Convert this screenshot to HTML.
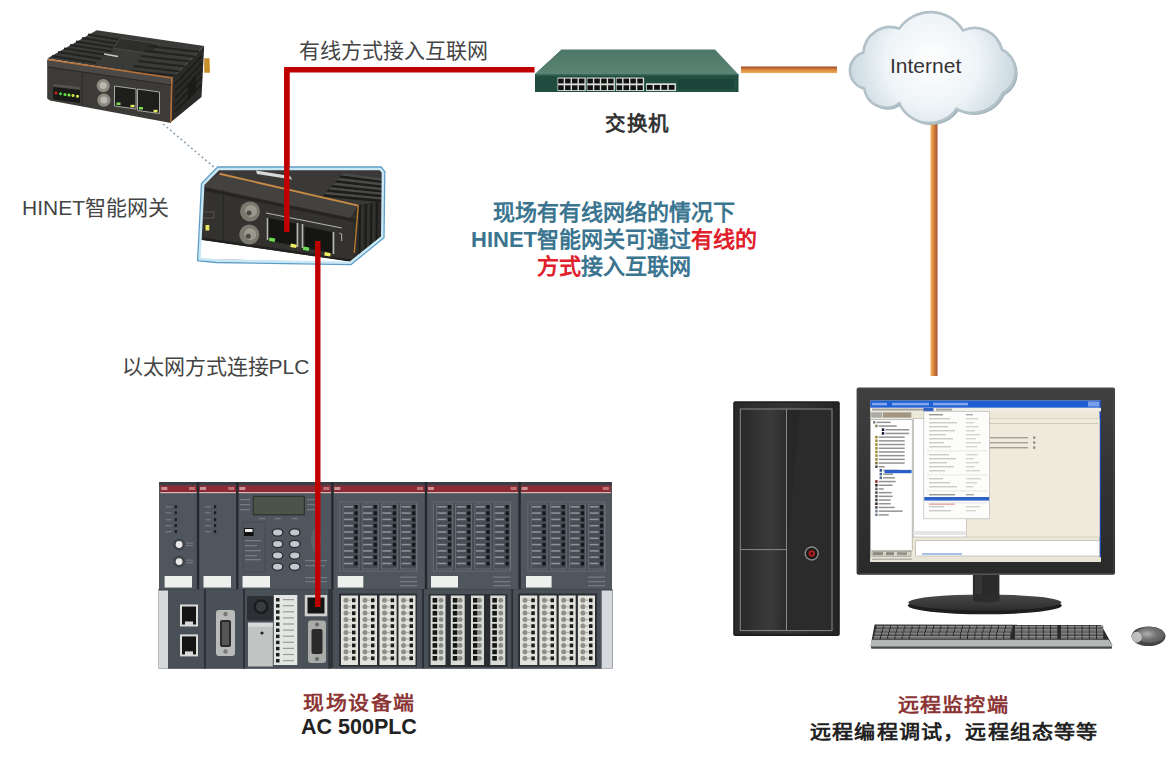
<!DOCTYPE html><html lang="zh-CN"><head><meta charset="utf-8"><style>
body{margin:0;width:1171px;height:759px;background:#fff;font-family:"Liberation Sans",sans-serif;position:relative;overflow:hidden}
.t{position:absolute;white-space:nowrap;line-height:1}
.s{font-weight:bold}
svg{position:absolute;left:0;top:0}
</style></head><body>
<svg width="1171" height="759" viewBox="0 0 1171 759">
<defs>
<linearGradient id="orH" x1="0" y1="0" x2="0" y2="1"><stop offset="0" stop-color="#9a4a2a"/><stop offset=".45" stop-color="#d9813a"/><stop offset="1" stop-color="#f2b060"/></linearGradient>
<linearGradient id="orV" x1="0" y1="0" x2="1" y2="0"><stop offset="0" stop-color="#f4b266"/><stop offset=".5" stop-color="#d8823c"/><stop offset="1" stop-color="#9c5030"/></linearGradient>
<linearGradient id="swTop" x1="0" y1="0" x2="0" y2="1"><stop offset="0" stop-color="#4d7868"/><stop offset="1" stop-color="#5a8474"/></linearGradient>
<radialGradient id="cloudG" gradientUnits="userSpaceOnUse" cx="932" cy="62" r="85"><stop offset="0" stop-color="#ffffff"/><stop offset=".55" stop-color="#eef4f7"/><stop offset="1" stop-color="#c9d8df"/></radialGradient>
<linearGradient id="silver" x1="0" y1="0" x2="1" y2="1"><stop offset="0" stop-color="#e8e8e0"/><stop offset=".5" stop-color="#a8a8a0"/><stop offset="1" stop-color="#5a5a55"/></linearGradient>
<linearGradient id="towerG" x1="0" y1="0" x2="1" y2="0"><stop offset="0" stop-color="#2a2a2a"/><stop offset=".5" stop-color="#353535"/><stop offset="1" stop-color="#242424"/></linearGradient>
<linearGradient id="bezelG" x1="0" y1="0" x2="0" y2="1"><stop offset="0" stop-color="#404040"/><stop offset=".5" stop-color="#333"/><stop offset="1" stop-color="#2a2a2a"/></linearGradient>
<linearGradient id="baseG" x1="0" y1="0" x2="0" y2="1"><stop offset="0" stop-color="#4a4a4a"/><stop offset="1" stop-color="#2c2c2c"/></linearGradient>
<radialGradient id="mouseG" cx=".4" cy=".45" r=".65"><stop offset="0" stop-color="#b0b0b0"/><stop offset=".5" stop-color="#747474"/><stop offset="1" stop-color="#5a5a5a"/></radialGradient>
<linearGradient id="towL" x1="0" y1="0" x2="1" y2="0"><stop offset="0" stop-color="#2a2a2a"/><stop offset=".65" stop-color="#3a3a3a"/><stop offset="1" stop-color="#2c2c2c"/></linearGradient>
</defs>
<!-- red lines -->
<path d="M286.8,232 V69.8 H534.5" fill="none" stroke="#c00000" stroke-width="5.4"/>
<!-- orange lines -->
<rect x="741" y="66.5" width="96" height="6.6" fill="url(#orH)"/>
<rect x="930.5" y="120" width="7" height="256" fill="url(#orV)"/>
<g id="switch">
<polygon points="535,74.4 562,49.5 715,49.5 738.5,74.4" fill="url(#swTop)"/>
<line x1="535" y1="74.4" x2="562" y2="49.5" stroke="#4a7262" stroke-width="1"/>
<rect x="535" y="74.4" width="203.5" height="17.6" fill="#214d41"/>
<rect x="535" y="74.4" width="203.5" height="1.5" fill="#2f5e50"/>
<rect x="677" y="78" width="58" height="12" fill="#1c4539" stroke="#2f5f52" stroke-width=".6"/>
<rect x="557.5" y="77.5" width="28.2" height="13.5" fill="#d8ddd8"/>
<rect x="558.2" y="78.6" width="5.5" height="4.8" fill="#111"/>
<rect x="558.2" y="85.3" width="5.5" height="4.8" fill="#111"/>
<rect x="565.1" y="78.6" width="5.5" height="4.8" fill="#111"/>
<rect x="565.1" y="85.3" width="5.5" height="4.8" fill="#111"/>
<rect x="572.0" y="78.6" width="5.5" height="4.8" fill="#111"/>
<rect x="572.0" y="85.3" width="5.5" height="4.8" fill="#111"/>
<rect x="578.9" y="78.6" width="5.5" height="4.8" fill="#111"/>
<rect x="578.9" y="85.3" width="5.5" height="4.8" fill="#111"/>
<rect x="586.7" y="77.5" width="28.2" height="13.5" fill="#d8ddd8"/>
<rect x="587.4" y="78.6" width="5.5" height="4.8" fill="#111"/>
<rect x="587.4" y="85.3" width="5.5" height="4.8" fill="#111"/>
<rect x="594.3" y="78.6" width="5.5" height="4.8" fill="#111"/>
<rect x="594.3" y="85.3" width="5.5" height="4.8" fill="#111"/>
<rect x="601.2" y="78.6" width="5.5" height="4.8" fill="#111"/>
<rect x="601.2" y="85.3" width="5.5" height="4.8" fill="#111"/>
<rect x="608.1" y="78.6" width="5.5" height="4.8" fill="#111"/>
<rect x="608.1" y="85.3" width="5.5" height="4.8" fill="#111"/>
<rect x="615.9" y="77.5" width="28.2" height="13.5" fill="#d8ddd8"/>
<rect x="616.6" y="78.6" width="5.5" height="4.8" fill="#111"/>
<rect x="616.6" y="85.3" width="5.5" height="4.8" fill="#111"/>
<rect x="623.5" y="78.6" width="5.5" height="4.8" fill="#111"/>
<rect x="623.5" y="85.3" width="5.5" height="4.8" fill="#111"/>
<rect x="630.4" y="78.6" width="5.5" height="4.8" fill="#111"/>
<rect x="630.4" y="85.3" width="5.5" height="4.8" fill="#111"/>
<rect x="637.3" y="78.6" width="5.5" height="4.8" fill="#111"/>
<rect x="637.3" y="85.3" width="5.5" height="4.8" fill="#111"/>
<rect x="646" y="83.3" width="30" height="7.8" fill="#d8ddd8"/>
<rect x="646.8" y="85" width="5.8" height="4.8" fill="#111"/>
<rect x="654.1" y="85" width="5.8" height="4.8" fill="#111"/>
<rect x="661.4" y="85" width="5.8" height="4.8" fill="#111"/>
<rect x="668.7" y="85" width="5.8" height="4.8" fill="#111"/>
</g>
<g id="cloud">
<path transform="translate(2,2)" fill="#a0b2ba" d="M863.4,52.6 A27,27 0 0,1 899.3,28.5 A38,38 0 0,1 963,30.4 A28,28 0 0,1 1001.8,49.5 A24.5,24.5 0 0,1 1002.7,93.2 A33,33 0 0,1 956.6,108.9 A33,33 0 0,1 899.3,103.3 A22,22 0 0,1 864.3,88.6 A18.6,18.6 0 0,1 863.4,52.6 Z"/>
<path fill="url(#cloudG)" stroke="#b2c1c8" stroke-width="2.6" d="M863.4,52.6 A27,27 0 0,1 899.3,28.5 A38,38 0 0,1 963,30.4 A28,28 0 0,1 1001.8,49.5 A24.5,24.5 0 0,1 1002.7,93.2 A33,33 0 0,1 956.6,108.9 A33,33 0 0,1 899.3,103.3 A22,22 0 0,1 864.3,88.6 A18.6,18.6 0 0,1 863.4,52.6 Z"/>
</g>
<g id="gw1">
<!-- top surface -->
<polygon points="47.2,58.5 96.7,30.3 204.2,46 172.3,77.9" fill="#3a3a38"/>
<!-- fins left part of top -->
<g stroke="#232321" stroke-width="2.2">
<line x1="52" y1="56" x2="96" y2="63"/><line x1="58" y1="52" x2="101" y2="58.8"/><line x1="64" y1="48.5" x2="107" y2="55"/>
<line x1="70" y1="45" x2="112" y2="51.5"/><line x1="76" y1="41.5" x2="117" y2="48"/><line x1="82" y1="38" x2="122" y2="44.5"/><line x1="88" y1="34.5" x2="127" y2="41"/>
</g>
<!-- raised center -->
<polygon points="120.5,38.2 159.6,44 152.4,54.2 113.3,48.2" fill="#2e2e2c" stroke="#4a4a47" stroke-width="1"/>
<!-- right fins -->
<g stroke="#222220" stroke-width="2">
<line x1="148" y1="46" x2="200" y2="52"/><line x1="145" y1="51" x2="198" y2="57"/><line x1="141" y1="56" x2="194" y2="62"/>
<line x1="138" y1="61" x2="189" y2="67"/><line x1="134" y1="66" x2="184" y2="72"/><line x1="131" y1="71" x2="179" y2="76"/>
</g>
<!-- logo -->
<line x1="104" y1="54" x2="118" y2="56.5" stroke="#c8c8c8" stroke-width="1.4"/>
<!-- right face -->
<polygon points="172.3,77.9 204.2,46 201.5,97 171,122" fill="#2b2a28"/>
<g stroke="#1c1c1a" stroke-width="1.8">
<line x1="175" y1="84" x2="202" y2="56"/><line x1="175" y1="91" x2="202" y2="63"/><line x1="175" y1="98" x2="202" y2="70"/><line x1="175" y1="105" x2="202" y2="77"/><line x1="175" y1="112" x2="201" y2="85"/>
</g>
<polygon points="188,84 196,76 196,92 188,100" fill="#1a1a19"/>
<polygon points="204.2,58.3 209.5,58.3 210,72.8 204.2,72.8" fill="#c8902a"/>
<!-- front face -->
<polygon points="47.2,60 172.3,78 171,123 49.9,100.5 47.2,98.5" fill="#3c3b37"/>
<polygon points="47.9,66.5 172.3,85 172.3,78 47.2,60" fill="#4a4945"/>
<line x1="47.5" y1="59.5" x2="172.3" y2="78" stroke="#b87238" stroke-width="1.5"/>
<line x1="171.8" y1="78" x2="170.8" y2="122" stroke="#b87238" stroke-width="1.5"/>
<line x1="48" y1="67" x2="171.5" y2="85" stroke="#2a2926" stroke-width="1"/>
<line x1="82.2" y1="72" x2="82.2" y2="106" stroke="#2c2b28" stroke-width="1"/>
<!-- LED block -->
<polygon points="53,87 80,90 80,103 53,99.5" fill="#1a1a18"/>
<polygon points="53,84 80,87 80,89.5 53,86.5" fill="#55534e"/>
<circle cx="56" cy="93" r="1.6" fill="#d02020"/>
<circle cx="60.5" cy="93.8" r="1.5" fill="#50d040"/><circle cx="65" cy="94.5" r="1.5" fill="#60e040"/>
<circle cx="69" cy="95" r="1.5" fill="#80f040"/><circle cx="73" cy="95.5" r="1.5" fill="#d0f040"/><circle cx="77.5" cy="96.2" r="1.5" fill="#e0f050"/>
<!-- BNC -->
<circle cx="103.2" cy="85.6" r="6.6" fill="#8d8c82"/><circle cx="103.2" cy="85.6" r="3.5" fill="#b9b8ae"/>
<circle cx="103.9" cy="100.1" r="6.6" fill="#8d8c82"/><circle cx="103.9" cy="100.1" r="3.5" fill="#b9b8ae"/>
<!-- RJ45 -->
<polygon points="114.5,86 136,89 136,109 114.5,106" fill="#1e1e1d" stroke="#a9a9a4" stroke-width="1"/>
<polygon points="137.5,89 159.5,92 159.5,113.5 137.5,110.5" fill="#1e1e1d" stroke="#a9a9a4" stroke-width="1"/>
<rect x="116.5" y="102.5" width="4" height="2.5" fill="#7ee050"/><rect x="130.5" y="104.8" width="4" height="2.5" fill="#e8f060"/>
<rect x="139" y="107" width="4" height="2.5" fill="#7ee050"/><rect x="153.5" y="109.8" width="4" height="2.5" fill="#e8f060"/>
</g>
<!-- dotted connector -->
<line x1="163" y1="124" x2="215" y2="168" stroke="#8aa0b0" stroke-width="1.5" stroke-dasharray="2,2.6"/>
<g id="gw2">
<clipPath id="gwclip"><polygon points="218.5,168.6 380.5,168.6 383,172 382.2,237 350.4,262.7 199.5,258.8 203,184.5"/></clipPath>
<polygon points="217.7,167 381.2,167 384.8,171.6 384,237.7 351,264.6 216,262.5 197.6,260.6 201.5,183.6" fill="#fff"/>
<g clip-path="url(#gwclip)">
<rect x="190" y="160" width="200" height="110" fill="#31302d"/>
<!-- top surface -->
<polygon points="200,160 390,160 390,236 357,206 219.6,173.6 200,186" fill="#3a3937"/>
<polygon points="341.0,175.5 344.0,173.3 384,178.7 384,181.1" fill="#4a4a48"/>
<polygon points="341.0,175.5 384,181.1 384,183.7 339.0,177.7" fill="#1c1c1b"/>
<polygon points="336.8,180.2 339.8,178.0 384,183.4 384,185.8" fill="#4a4a48"/>
<polygon points="336.8,180.2 384,185.8 384,188.4 334.8,182.4" fill="#1c1c1b"/>
<polygon points="332.6,184.9 335.6,182.7 384,188.1 384,190.5" fill="#4a4a48"/>
<polygon points="332.6,184.9 384,190.5 384,193.1 330.6,187.1" fill="#1c1c1b"/>
<polygon points="328.4,189.6 331.4,187.4 384,192.8 384,195.2" fill="#4a4a48"/>
<polygon points="328.4,189.6 384,195.2 384,197.8 326.4,191.8" fill="#1c1c1b"/>
<polygon points="324.2,194.3 327.2,192.1 384,197.5 384,199.9" fill="#4a4a48"/>
<polygon points="324.2,194.3 384,199.9 384,202.5 322.2,196.5" fill="#1c1c1b"/>
<!-- logo -->
<polygon points="256,170.5 290,176 292,179.5 257,174" fill="#d9d9d9"/>
<!-- right face -->
<polygon points="356,205 390,200 390,250 353,262" fill="#2c2b29"/>
<g stroke="#1a1a19" stroke-width="1.6">
<line x1="360" y1="206" x2="359.5" y2="258"/><line x1="366" y1="204" x2="365.5" y2="256"/><line x1="371.5" y1="203" x2="371" y2="252"/><line x1="377" y1="202" x2="376.5" y2="248"/>
</g>
<g stroke="#3e3d3a" stroke-width=".8">
<line x1="362.3" y1="206" x2="361.8" y2="257"/><line x1="368.3" y1="204" x2="367.8" y2="255"/><line x1="373.8" y1="203" x2="373.3" y2="251"/>
</g>
<!-- front bevel -->
<polygon points="200,186 219.6,173.6 358.3,205.6 349.6,219 205,187" fill="#43423e"/>
<!-- front face -->
<polygon points="203,187 349.6,219 354.3,253 351,262 203,239.5" fill="#33322f"/>
<polygon points="200,186.5 358,219.5 358,223 200,190" fill="#262523"/>
<line x1="219.6" y1="173.8" x2="358.3" y2="205.6" stroke="#c98a48" stroke-width="1.9"/>
<line x1="358.3" y1="205.6" x2="354.3" y2="253" stroke="#b8782e" stroke-width="1.4"/>
<!-- bottom white -->
<polygon points="195,239 356,262 356,270 195,270" fill="#fff"/>
<polygon points="203,237.5 356,260 356,262.5 203,240" fill="#22211f"/>
<line x1="223.3" y1="190" x2="223.3" y2="242" stroke="#242321" stroke-width="1"/>
<rect x="205.5" y="225" width="3.8" height="5.5" fill="#e8e860"/>
<rect x="202" y="212" width="12" height="6" fill="none" stroke="#55534f" stroke-width="1"/>
<!-- BNC -->
<circle cx="250" cy="211.4" r="10" fill="#7a796f"/><circle cx="251" cy="211" r="6" fill="#9a998e"/><circle cx="249" cy="213" r="2.5" fill="#4a4940"/>
<circle cx="249.3" cy="234.6" r="10" fill="#7a796f"/><circle cx="250.3" cy="234.2" r="6" fill="#9a998e"/><circle cx="248.3" cy="236.2" r="2.5" fill="#4a4940"/>
<!-- RJ45 frames -->
<polyline points="266,213 299,219.5 341.7,228" fill="none" stroke="#b8b8b4" stroke-width="1"/>
<polygon points="268,218 296,223.5 296,246 268,240.5" fill="#151514"/>
<line x1="267.5" y1="218" x2="267.5" y2="240" stroke="#b5b5b0" stroke-width="1.6"/>
<line x1="297.5" y1="223" x2="297.5" y2="247" stroke="#b5b5b0" stroke-width="1.6"/>
<line x1="302.5" y1="224" x2="302.5" y2="248" stroke="#b5b5b0" stroke-width="1.6"/>
<polygon points="304.5,226.5 332,232 332,253 304.5,247.5" fill="#151514"/>
<line x1="333.5" y1="232" x2="333.5" y2="254" stroke="#b5b5b0" stroke-width="1.6"/>
<polyline points="339.5,233 341.7,234 341.7,241" fill="none" stroke="#b8b8b4" stroke-width="1"/>
<rect x="269" y="238" width="6" height="3.4" fill="#6edc50" transform="rotate(10 272 240)"/>
<rect x="290.5" y="244" width="6" height="3.4" fill="#f0f060" transform="rotate(10 293 246)"/>
<rect x="303" y="247" width="6" height="3.4" fill="#6edc50" transform="rotate(10 306 249)"/>
<rect x="324.5" y="252.5" width="6" height="3.4" fill="#f0f060" transform="rotate(10 327 254)"/>
</g>
<polygon points="218.6,168.9 380.3,168.9 383,172.3 382.3,236.9 350.3,262.7 215.8,260.6 199.4,258.9 203.2,184.3" fill="none" stroke="#c8e8f6" stroke-width="2.6"/>
<polygon points="217.7,167 381.2,167 384.8,171.6 384,237.7 351,264.6 216,262.5 197.6,260.6 201.5,183.6" fill="none" stroke="#5e9cc4" stroke-width="1.3"/>
</g>
<path d="M286.8,232 V69.8" fill="none" stroke="#c00000" stroke-width="5.4"/>
<g id="pc">
<rect x="733.2" y="401.3" width="106.6" height="234.7" rx="2" fill="#1f1f1f"/>
<rect x="735" y="403" width="103" height="231" fill="url(#towerG)"/>
<rect x="740.8" y="409.5" width="45.7" height="221" fill="url(#towL)"/>
<rect x="786.5" y="409.5" width="45" height="221" fill="#272727"/>
<polygon points="800,409.5 831.5,409.5 831.5,630 780,630" fill="#2e2e2e" opacity=".6"/>
<rect x="740.3" y="409" width="91.7" height="221.6" fill="none" stroke="#8a8a8a" stroke-width="1"/>
<line x1="786.5" y1="409" x2="786.5" y2="630.6" stroke="#8a8a8a" stroke-width="1"/>
<line x1="740.3" y1="549.6" x2="786.5" y2="549.6" stroke="#8a8a8a" stroke-width="1"/>
<circle cx="811.7" cy="553.5" r="7.2" fill="#8a8a8a"/><circle cx="811.7" cy="553.5" r="5.8" fill="#1a1a1a"/><circle cx="811.7" cy="553.5" r="3.2" fill="#b02020"/><circle cx="811.7" cy="553.5" r="1.3" fill="#300"/>
<rect x="856.6" y="387.4" width="258.4" height="187.4" rx="2" fill="url(#bezelG)"/>
<rect x="858" y="388.5" width="255.6" height="185" rx="1.5" fill="none" stroke="#4a4a4a" stroke-width=".8"/>
<rect x="870.3" y="400.5" width="230.7" height="161.5" fill="#ece9d8"/>
<rect x="870.3" y="400.5" width="230.7" height="7.3" fill="#1f5fd4"/>
<rect x="872" y="402.8" width="15" height="2.6" fill="#9ab8f0" opacity=".8"/><rect x="892" y="402.8" width="37" height="2.6" fill="#9ab8f0" opacity=".8"/><rect x="933" y="402.8" width="35" height="2.6" fill="#9ab8f0" opacity=".8"/>
<rect x="1088" y="401.5" width="12" height="5" fill="#7a9ee8"/><rect x="1099.5" y="400.5" width="1.5" height="161.5" fill="#1a4ab8"/>
<rect x="870.3" y="407.8" width="230.7" height="3.5" fill="#f0eee4"/>
<rect x="872" y="408.6" width="60" height="2" fill="#666" opacity=".55"/><rect x="923.5" y="408" width="10" height="3.3" fill="#3163c5"/><rect x="936" y="408.6" width="16" height="2" fill="#666" opacity=".55"/>
<rect x="872" y="412" width="40" height="6" fill="#d8d4c4"/>
<rect x="871" y="412.5" width="11" height="5" fill="#999" opacity=".7"/><rect x="883" y="412.5" width="28" height="5" fill="#8d7d6a" opacity=".7"/>
<rect x="870.7" y="419.6" width="41.5" height="131" fill="#ffffff" stroke="#9a9a9a" stroke-width=".6"/>
<rect x="873.0" y="421.0" width="2.4" height="2.6" fill="#888"/><rect x="876.5" y="421.6" width="14.0" height="1.5" fill="#3a3a3a" opacity=".55"/>
<rect x="875.2" y="424.7" width="2.4" height="2.6" fill="#7a8a60"/><rect x="878.7" y="425.3" width="18.0" height="1.5" fill="#3a3a3a" opacity=".55"/>
<rect x="881.8" y="428.4" width="2.4" height="2.6" fill="#101030"/><rect x="885.3" y="429.0" width="24.0" height="1.5" fill="#3a3a3a" opacity=".55"/>
<rect x="881.8" y="432.1" width="2.4" height="2.6" fill="#101030"/><rect x="885.3" y="432.7" width="24.0" height="1.5" fill="#3a3a3a" opacity=".55"/>
<rect x="875.2" y="435.8" width="2.4" height="2.6" fill="#9a8a30"/><rect x="878.7" y="436.4" width="26.0" height="1.5" fill="#3a3a3a" opacity=".55"/>
<rect x="875.2" y="439.5" width="2.4" height="2.6" fill="#9a8a30"/><rect x="878.7" y="440.1" width="26.0" height="1.5" fill="#3a3a3a" opacity=".55"/>
<rect x="875.2" y="443.2" width="2.4" height="2.6" fill="#9a8a30"/><rect x="878.7" y="443.8" width="26.0" height="1.5" fill="#3a3a3a" opacity=".55"/>
<rect x="875.2" y="446.9" width="2.4" height="2.6" fill="#9a8a30"/><rect x="878.7" y="447.5" width="26.0" height="1.5" fill="#3a3a3a" opacity=".55"/>
<rect x="875.2" y="450.6" width="2.4" height="2.6" fill="#9a8a30"/><rect x="878.7" y="451.2" width="26.0" height="1.5" fill="#3a3a3a" opacity=".55"/>
<rect x="875.2" y="454.3" width="2.4" height="2.6" fill="#9a8a30"/><rect x="878.7" y="454.9" width="26.0" height="1.5" fill="#3a3a3a" opacity=".55"/>
<rect x="875.2" y="458.0" width="2.4" height="2.6" fill="#9a8a30"/><rect x="878.7" y="458.6" width="26.0" height="1.5" fill="#3a3a3a" opacity=".55"/>
<rect x="875.2" y="461.7" width="2.4" height="2.6" fill="#7a6a30"/><rect x="878.7" y="462.3" width="26.0" height="1.5" fill="#3a3a3a" opacity=".55"/>
<rect x="875.2" y="465.4" width="2.4" height="2.6" fill="#4a4a4a"/><rect x="878.7" y="466.0" width="6.0" height="1.5" fill="#3a3a3a" opacity=".55"/>
<rect x="879.6" y="469.1" width="2.4" height="2.6" fill="#2a4a8a"/><rect x="883.1" y="469.7" width="16.0" height="1.5" fill="#3a3a3a" opacity=".55"/>
<rect x="879.6" y="472.8" width="2.4" height="2.6" fill="#4a6a8a"/><rect x="883.1" y="473.4" width="10.0" height="1.5" fill="#3a3a3a" opacity=".55"/>
<rect x="879.6" y="476.5" width="2.4" height="2.6" fill="#4a6a8a"/><rect x="883.1" y="477.1" width="12.0" height="1.5" fill="#3a3a3a" opacity=".55"/>
<rect x="875.2" y="480.2" width="2.4" height="2.6" fill="#7a2020"/><rect x="878.7" y="480.8" width="17.0" height="1.5" fill="#3a3a3a" opacity=".55"/>
<rect x="875.2" y="483.9" width="2.4" height="2.6" fill="#202020"/><rect x="878.7" y="484.5" width="14.0" height="1.5" fill="#3a3a3a" opacity=".55"/>
<rect x="875.2" y="487.6" width="2.4" height="2.6" fill="#5a5a5a"/><rect x="878.7" y="488.2" width="5.0" height="1.5" fill="#3a3a3a" opacity=".55"/>
<rect x="875.2" y="491.3" width="2.4" height="2.6" fill="#4a4a4a"/><rect x="878.7" y="491.9" width="13.0" height="1.5" fill="#3a3a3a" opacity=".55"/>
<rect x="875.2" y="495.0" width="2.4" height="2.6" fill="#4a4a4a"/><rect x="878.7" y="495.6" width="14.0" height="1.5" fill="#3a3a3a" opacity=".55"/>
<rect x="875.2" y="498.7" width="2.4" height="2.6" fill="#3a3a3a"/><rect x="878.7" y="499.3" width="12.0" height="1.5" fill="#3a3a3a" opacity=".55"/>
<rect x="875.2" y="502.4" width="2.4" height="2.6" fill="#2a2a2a"/><rect x="878.7" y="503.0" width="12.0" height="1.5" fill="#3a3a3a" opacity=".55"/>
<rect x="875.2" y="506.1" width="2.4" height="2.6" fill="#4a4a4a"/><rect x="878.7" y="506.7" width="16.0" height="1.5" fill="#3a3a3a" opacity=".55"/>
<rect x="875.2" y="509.8" width="2.4" height="2.6" fill="#6a7a8a"/><rect x="878.7" y="510.4" width="24.0" height="1.5" fill="#3a3a3a" opacity=".55"/>
<rect x="875.2" y="513.5" width="2.4" height="2.6" fill="#6a7a8a"/><rect x="878.7" y="514.1" width="10.0" height="1.5" fill="#3a3a3a" opacity=".55"/>
<rect x="884.6" y="469.9" width="27" height="3.3" fill="#2a5ec8"/>
<rect x="872" y="551.3" width="39" height="5" fill="#d8d4c4" stroke="#666" stroke-width=".4"/>
<rect x="873" y="552.2" width="10" height="3" fill="#555" opacity=".6"/><rect x="886" y="552.2" width="8" height="3" fill="#555" opacity=".6"/><rect x="897" y="552.2" width="10" height="3" fill="#555" opacity=".5"/>
<rect x="913.4" y="418.5" width="53.3" height="118.5" fill="#ffffff" stroke="#aaa" stroke-width=".6"/>
<rect x="913.4" y="531" width="53.3" height="4" fill="#e6e6e6"/>
<rect x="966.7" y="418.5" width="132.9" height="118.5" fill="#efeadb" stroke="#c8c4b4" stroke-width=".6"/>
<rect x="968" y="423" width="130" height="1" fill="#cfcab8"/>
<rect x="990" y="437" width="38" height="1.4" fill="#555" opacity=".5"/><rect x="1033" y="436.4" width="2.4" height="2.4" fill="#555" opacity=".6"/>
<rect x="990" y="442" width="38" height="1.4" fill="#555" opacity=".5"/><rect x="1033" y="441.4" width="2.4" height="2.4" fill="#555" opacity=".6"/>
<rect x="990" y="447" width="38" height="1.4" fill="#555" opacity=".5"/><rect x="1033" y="446.4" width="2.4" height="2.4" fill="#555" opacity=".6"/>
<rect x="923.8" y="411.3" width="65.7" height="107.5" fill="#fcfcfb" stroke="#b0b0b0" stroke-width=".6"/>
<rect x="929" y="414.0" width="14" height="1.4" fill="#333" opacity=".5"/><rect x="966" y="414.0" width="7" height="1.4" fill="#333" opacity=".4"/>
<rect x="929" y="418.0" width="21" height="1.4" fill="#9a9a9a" opacity=".5"/><rect x="966" y="418.0" width="12" height="1.4" fill="#9a9a9a" opacity=".4"/>
<rect x="929" y="422.0" width="28" height="1.4" fill="#9a9a9a" opacity=".5"/><rect x="966" y="422.0" width="8" height="1.4" fill="#9a9a9a" opacity=".4"/>
<rect x="929" y="426.0" width="19" height="1.4" fill="#9a9a9a" opacity=".5"/><rect x="966" y="426.0" width="13" height="1.4" fill="#9a9a9a" opacity=".4"/>
<rect x="929" y="430.0" width="26" height="1.4" fill="#9a9a9a" opacity=".5"/><rect x="966" y="430.0" width="9" height="1.4" fill="#9a9a9a" opacity=".4"/>
<rect x="929" y="434.0" width="17" height="1.4" fill="#9a9a9a" opacity=".5"/><rect x="966" y="434.0" width="14" height="1.4" fill="#9a9a9a" opacity=".4"/>
<rect x="929" y="438.0" width="24" height="1.4" fill="#9a9a9a" opacity=".5"/><rect x="966" y="438.0" width="10" height="1.4" fill="#9a9a9a" opacity=".4"/>
<rect x="929" y="442.0" width="15" height="1.4" fill="#9a9a9a" opacity=".5"/><rect x="966" y="442.0" width="15" height="1.4" fill="#9a9a9a" opacity=".4"/>
<rect x="929" y="446.0" width="22" height="1.4" fill="#9a9a9a" opacity=".5"/><rect x="966" y="446.0" width="11" height="1.4" fill="#9a9a9a" opacity=".4"/>
<rect x="927" y="450.7" width="60" height=".5" fill="#d0d0d0"/>
<rect x="929" y="454.0" width="20" height="1.4" fill="#9a9a9a" opacity=".5"/><rect x="966" y="454.0" width="12" height="1.4" fill="#9a9a9a" opacity=".4"/>
<rect x="929" y="458.0" width="27" height="1.4" fill="#9a9a9a" opacity=".5"/><rect x="966" y="458.0" width="8" height="1.4" fill="#9a9a9a" opacity=".4"/>
<rect x="929" y="462.0" width="18" height="1.4" fill="#9a9a9a" opacity=".5"/><rect x="966" y="462.0" width="13" height="1.4" fill="#9a9a9a" opacity=".4"/>
<rect x="929" y="466.0" width="25" height="1.4" fill="#9a9a9a" opacity=".5"/><rect x="966" y="466.0" width="9" height="1.4" fill="#9a9a9a" opacity=".4"/>
<rect x="929" y="470.0" width="16" height="1.4" fill="#9a9a9a" opacity=".5"/><rect x="966" y="470.0" width="14" height="1.4" fill="#9a9a9a" opacity=".4"/>
<rect x="927" y="474.7" width="60" height=".5" fill="#d0d0d0"/>
<rect x="929" y="478.0" width="14" height="1.4" fill="#9a9a9a" opacity=".5"/><rect x="966" y="478.0" width="15" height="1.4" fill="#9a9a9a" opacity=".4"/>
<rect x="929" y="482.0" width="21" height="1.4" fill="#9a9a9a" opacity=".5"/><rect x="966" y="482.0" width="11" height="1.4" fill="#9a9a9a" opacity=".4"/>
<rect x="929" y="486.0" width="28" height="1.4" fill="#9a9a9a" opacity=".5"/><rect x="966" y="486.0" width="7" height="1.4" fill="#9a9a9a" opacity=".4"/>
<rect x="927" y="490.7" width="60" height=".5" fill="#d0d0d0"/>
<rect x="929" y="494.0" width="26" height="1.4" fill="#333" opacity=".5"/><rect x="966" y="494.0" width="8" height="1.4" fill="#333" opacity=".4"/>
<rect x="929" y="498.0" width="17" height="1.4" fill="#9a9a9a" opacity=".5"/><rect x="966" y="498.0" width="13" height="1.4" fill="#9a9a9a" opacity=".4"/>
<rect x="927" y="502.7" width="60" height=".5" fill="#d0d0d0"/>
<rect x="929" y="506.0" width="15" height="1.4" fill="#9a9a9a" opacity=".5"/><rect x="966" y="506.0" width="14" height="1.4" fill="#9a9a9a" opacity=".4"/>
<rect x="929" y="510.0" width="22" height="1.4" fill="#9a9a9a" opacity=".5"/><rect x="966" y="510.0" width="10" height="1.4" fill="#9a9a9a" opacity=".4"/>
<rect x="924.3" y="497" width="64.8" height="3.6" fill="#2f62c6"/>
<rect x="929" y="503.5" width="26" height="1.4" fill="#cc4433" opacity=".45"/>
<rect x="915.7" y="540.6" width="183.9" height="15.4" fill="#ffffff" stroke="#aaa" stroke-width=".6"/>
<rect x="922" y="553" width="40" height="2" fill="#a8c0e8"/>
<rect x="870.3" y="557.2" width="230.7" height="4.8" fill="#e8e5d6"/>
<rect x="872" y="558.5" width="40" height="1.4" fill="#777" opacity=".5"/>
<rect x="972.9" y="574.8" width="26.5" height="26" fill="#2a2a2a"/>
<rect x="975" y="574.8" width="7" height="28" fill="#3a3a3a" opacity=".7"/>
<ellipse cx="984.85" cy="605.5" rx="77" ry="8.8" fill="#1e1e1e"/>
<ellipse cx="984.85" cy="602.5" rx="76.5" ry="8" fill="url(#baseG)"/>
<path d="M972.9,594 V601 Q986,604 999.4,601 V594 Z" fill="#2c2c2c"/>
<polygon points="874.6,624.5 1101,624.8 1112.3,645 1111,648.4 872,648.4 870.6,646" fill="#2a2a2a"/>
<polygon points="871.5,639.8 1108.5,639.8 1112.3,645 1111,648.4 872,648.4 870.6,646" fill="#b3b7b7"/>
<rect x="871" y="646.5" width="241" height="2" fill="#4a4a4a"/>
<rect x="876.5" y="625.8" width="6.2" height="3.0" fill="#666"/><rect x="876.5" y="625.8" width="6.2" height="1.2" fill="#8c8c8c"/>
<rect x="883.7" y="625.8" width="6.2" height="3.0" fill="#666"/><rect x="883.7" y="625.8" width="6.2" height="1.2" fill="#8c8c8c"/>
<rect x="890.9" y="625.8" width="6.2" height="3.0" fill="#666"/><rect x="890.9" y="625.8" width="6.2" height="1.2" fill="#8c8c8c"/>
<rect x="898.1" y="625.8" width="6.2" height="3.0" fill="#666"/><rect x="898.1" y="625.8" width="6.2" height="1.2" fill="#8c8c8c"/>
<rect x="905.3" y="625.8" width="6.2" height="3.0" fill="#666"/><rect x="905.3" y="625.8" width="6.2" height="1.2" fill="#8c8c8c"/>
<rect x="912.5" y="625.8" width="6.2" height="3.0" fill="#666"/><rect x="912.5" y="625.8" width="6.2" height="1.2" fill="#8c8c8c"/>
<rect x="919.7" y="625.8" width="6.2" height="3.0" fill="#666"/><rect x="919.7" y="625.8" width="6.2" height="1.2" fill="#8c8c8c"/>
<rect x="926.9" y="625.8" width="6.2" height="3.0" fill="#666"/><rect x="926.9" y="625.8" width="6.2" height="1.2" fill="#8c8c8c"/>
<rect x="934.1" y="625.8" width="6.2" height="3.0" fill="#666"/><rect x="934.1" y="625.8" width="6.2" height="1.2" fill="#8c8c8c"/>
<rect x="941.3" y="625.8" width="6.2" height="3.0" fill="#666"/><rect x="941.3" y="625.8" width="6.2" height="1.2" fill="#8c8c8c"/>
<rect x="948.5" y="625.8" width="6.2" height="3.0" fill="#666"/><rect x="948.5" y="625.8" width="6.2" height="1.2" fill="#8c8c8c"/>
<rect x="955.7" y="625.8" width="6.2" height="3.0" fill="#666"/><rect x="955.7" y="625.8" width="6.2" height="1.2" fill="#8c8c8c"/>
<rect x="962.9" y="625.8" width="6.2" height="3.0" fill="#666"/><rect x="962.9" y="625.8" width="6.2" height="1.2" fill="#8c8c8c"/>
<rect x="970.1" y="625.8" width="6.2" height="3.0" fill="#666"/><rect x="970.1" y="625.8" width="6.2" height="1.2" fill="#8c8c8c"/>
<rect x="977.3" y="625.8" width="6.2" height="3.0" fill="#666"/><rect x="977.3" y="625.8" width="6.2" height="1.2" fill="#8c8c8c"/>
<rect x="984.5" y="625.8" width="6.2" height="3.0" fill="#666"/><rect x="984.5" y="625.8" width="6.2" height="1.2" fill="#8c8c8c"/>
<rect x="991.7" y="625.8" width="6.2" height="3.0" fill="#666"/><rect x="991.7" y="625.8" width="6.2" height="1.2" fill="#8c8c8c"/>
<rect x="998.9" y="625.8" width="6.2" height="3.0" fill="#666"/><rect x="998.9" y="625.8" width="6.2" height="1.2" fill="#8c8c8c"/>
<rect x="1006.1" y="625.8" width="6.2" height="3.0" fill="#666"/><rect x="1006.1" y="625.8" width="6.2" height="1.2" fill="#8c8c8c"/>
<rect x="1015.0" y="625.8" width="6.2" height="3.0" fill="#666"/><rect x="1015.0" y="625.8" width="6.2" height="1.2" fill="#8c8c8c"/>
<rect x="1022.2" y="625.8" width="6.2" height="3.0" fill="#666"/><rect x="1022.2" y="625.8" width="6.2" height="1.2" fill="#8c8c8c"/>
<rect x="1029.4" y="625.8" width="6.2" height="3.0" fill="#666"/><rect x="1029.4" y="625.8" width="6.2" height="1.2" fill="#8c8c8c"/>
<rect x="1036.6" y="625.8" width="6.2" height="3.0" fill="#666"/><rect x="1036.6" y="625.8" width="6.2" height="1.2" fill="#8c8c8c"/>
<rect x="1043.8" y="625.8" width="6.2" height="3.0" fill="#666"/><rect x="1043.8" y="625.8" width="6.2" height="1.2" fill="#8c8c8c"/>
<rect x="1051.0" y="625.8" width="6.2" height="3.0" fill="#666"/><rect x="1051.0" y="625.8" width="6.2" height="1.2" fill="#8c8c8c"/>
<rect x="1061.0" y="625.8" width="6.2" height="3.0" fill="#666"/><rect x="1061.0" y="625.8" width="6.2" height="1.2" fill="#8c8c8c"/>
<rect x="1068.2" y="625.8" width="6.2" height="3.0" fill="#666"/><rect x="1068.2" y="625.8" width="6.2" height="1.2" fill="#8c8c8c"/>
<rect x="1075.4" y="625.8" width="6.2" height="3.0" fill="#666"/><rect x="1075.4" y="625.8" width="6.2" height="1.2" fill="#8c8c8c"/>
<rect x="1082.6" y="625.8" width="6.2" height="3.0" fill="#666"/><rect x="1082.6" y="625.8" width="6.2" height="1.2" fill="#8c8c8c"/>
<rect x="1089.8" y="625.8" width="6.2" height="3.0" fill="#666"/><rect x="1089.8" y="625.8" width="6.2" height="1.2" fill="#8c8c8c"/>
<rect x="1097.0" y="625.8" width="6.2" height="3.0" fill="#666"/><rect x="1097.0" y="625.8" width="6.2" height="1.2" fill="#8c8c8c"/>
<rect x="875.6" y="629.2" width="6.2" height="3.0" fill="#666"/><rect x="875.6" y="629.2" width="6.2" height="1.2" fill="#8c8c8c"/>
<rect x="882.8" y="629.2" width="6.2" height="3.0" fill="#666"/><rect x="882.8" y="629.2" width="6.2" height="1.2" fill="#8c8c8c"/>
<rect x="890.0" y="629.2" width="6.2" height="3.0" fill="#666"/><rect x="890.0" y="629.2" width="6.2" height="1.2" fill="#8c8c8c"/>
<rect x="897.2" y="629.2" width="6.2" height="3.0" fill="#666"/><rect x="897.2" y="629.2" width="6.2" height="1.2" fill="#8c8c8c"/>
<rect x="904.4" y="629.2" width="6.2" height="3.0" fill="#666"/><rect x="904.4" y="629.2" width="6.2" height="1.2" fill="#8c8c8c"/>
<rect x="911.6" y="629.2" width="6.2" height="3.0" fill="#666"/><rect x="911.6" y="629.2" width="6.2" height="1.2" fill="#8c8c8c"/>
<rect x="918.8" y="629.2" width="6.2" height="3.0" fill="#666"/><rect x="918.8" y="629.2" width="6.2" height="1.2" fill="#8c8c8c"/>
<rect x="926.0" y="629.2" width="6.2" height="3.0" fill="#666"/><rect x="926.0" y="629.2" width="6.2" height="1.2" fill="#8c8c8c"/>
<rect x="933.2" y="629.2" width="6.2" height="3.0" fill="#666"/><rect x="933.2" y="629.2" width="6.2" height="1.2" fill="#8c8c8c"/>
<rect x="940.4" y="629.2" width="6.2" height="3.0" fill="#666"/><rect x="940.4" y="629.2" width="6.2" height="1.2" fill="#8c8c8c"/>
<rect x="947.6" y="629.2" width="6.2" height="3.0" fill="#666"/><rect x="947.6" y="629.2" width="6.2" height="1.2" fill="#8c8c8c"/>
<rect x="954.8" y="629.2" width="6.2" height="3.0" fill="#666"/><rect x="954.8" y="629.2" width="6.2" height="1.2" fill="#8c8c8c"/>
<rect x="962.0" y="629.2" width="6.2" height="3.0" fill="#666"/><rect x="962.0" y="629.2" width="6.2" height="1.2" fill="#8c8c8c"/>
<rect x="969.2" y="629.2" width="6.2" height="3.0" fill="#666"/><rect x="969.2" y="629.2" width="6.2" height="1.2" fill="#8c8c8c"/>
<rect x="976.4" y="629.2" width="6.2" height="3.0" fill="#666"/><rect x="976.4" y="629.2" width="6.2" height="1.2" fill="#8c8c8c"/>
<rect x="983.6" y="629.2" width="6.2" height="3.0" fill="#666"/><rect x="983.6" y="629.2" width="6.2" height="1.2" fill="#8c8c8c"/>
<rect x="990.8" y="629.2" width="6.2" height="3.0" fill="#666"/><rect x="990.8" y="629.2" width="6.2" height="1.2" fill="#8c8c8c"/>
<rect x="998.0" y="629.2" width="6.2" height="3.0" fill="#666"/><rect x="998.0" y="629.2" width="6.2" height="1.2" fill="#8c8c8c"/>
<rect x="1005.2" y="629.2" width="6.2" height="3.0" fill="#666"/><rect x="1005.2" y="629.2" width="6.2" height="1.2" fill="#8c8c8c"/>
<rect x="1015.0" y="629.2" width="6.2" height="3.0" fill="#666"/><rect x="1015.0" y="629.2" width="6.2" height="1.2" fill="#8c8c8c"/>
<rect x="1022.2" y="629.2" width="6.2" height="3.0" fill="#666"/><rect x="1022.2" y="629.2" width="6.2" height="1.2" fill="#8c8c8c"/>
<rect x="1029.4" y="629.2" width="6.2" height="3.0" fill="#666"/><rect x="1029.4" y="629.2" width="6.2" height="1.2" fill="#8c8c8c"/>
<rect x="1036.6" y="629.2" width="6.2" height="3.0" fill="#666"/><rect x="1036.6" y="629.2" width="6.2" height="1.2" fill="#8c8c8c"/>
<rect x="1043.8" y="629.2" width="6.2" height="3.0" fill="#666"/><rect x="1043.8" y="629.2" width="6.2" height="1.2" fill="#8c8c8c"/>
<rect x="1051.0" y="629.2" width="6.2" height="3.0" fill="#666"/><rect x="1051.0" y="629.2" width="6.2" height="1.2" fill="#8c8c8c"/>
<rect x="1061.0" y="629.2" width="6.2" height="3.0" fill="#666"/><rect x="1061.0" y="629.2" width="6.2" height="1.2" fill="#8c8c8c"/>
<rect x="1068.2" y="629.2" width="6.2" height="3.0" fill="#666"/><rect x="1068.2" y="629.2" width="6.2" height="1.2" fill="#8c8c8c"/>
<rect x="1075.4" y="629.2" width="6.2" height="3.0" fill="#666"/><rect x="1075.4" y="629.2" width="6.2" height="1.2" fill="#8c8c8c"/>
<rect x="1082.6" y="629.2" width="6.2" height="3.0" fill="#666"/><rect x="1082.6" y="629.2" width="6.2" height="1.2" fill="#8c8c8c"/>
<rect x="1089.8" y="629.2" width="6.2" height="3.0" fill="#666"/><rect x="1089.8" y="629.2" width="6.2" height="1.2" fill="#8c8c8c"/>
<rect x="1097.0" y="629.2" width="6.2" height="3.0" fill="#666"/><rect x="1097.0" y="629.2" width="6.2" height="1.2" fill="#8c8c8c"/>
<rect x="874.7" y="632.6" width="6.2" height="3.0" fill="#666"/><rect x="874.7" y="632.6" width="6.2" height="1.2" fill="#8c8c8c"/>
<rect x="881.9" y="632.6" width="6.2" height="3.0" fill="#666"/><rect x="881.9" y="632.6" width="6.2" height="1.2" fill="#8c8c8c"/>
<rect x="889.1" y="632.6" width="6.2" height="3.0" fill="#666"/><rect x="889.1" y="632.6" width="6.2" height="1.2" fill="#8c8c8c"/>
<rect x="896.3" y="632.6" width="6.2" height="3.0" fill="#666"/><rect x="896.3" y="632.6" width="6.2" height="1.2" fill="#8c8c8c"/>
<rect x="903.5" y="632.6" width="6.2" height="3.0" fill="#666"/><rect x="903.5" y="632.6" width="6.2" height="1.2" fill="#8c8c8c"/>
<rect x="910.7" y="632.6" width="6.2" height="3.0" fill="#666"/><rect x="910.7" y="632.6" width="6.2" height="1.2" fill="#8c8c8c"/>
<rect x="917.9" y="632.6" width="6.2" height="3.0" fill="#666"/><rect x="917.9" y="632.6" width="6.2" height="1.2" fill="#8c8c8c"/>
<rect x="925.1" y="632.6" width="6.2" height="3.0" fill="#666"/><rect x="925.1" y="632.6" width="6.2" height="1.2" fill="#8c8c8c"/>
<rect x="932.3" y="632.6" width="6.2" height="3.0" fill="#666"/><rect x="932.3" y="632.6" width="6.2" height="1.2" fill="#8c8c8c"/>
<rect x="939.5" y="632.6" width="6.2" height="3.0" fill="#666"/><rect x="939.5" y="632.6" width="6.2" height="1.2" fill="#8c8c8c"/>
<rect x="946.7" y="632.6" width="6.2" height="3.0" fill="#666"/><rect x="946.7" y="632.6" width="6.2" height="1.2" fill="#8c8c8c"/>
<rect x="953.9" y="632.6" width="6.2" height="3.0" fill="#666"/><rect x="953.9" y="632.6" width="6.2" height="1.2" fill="#8c8c8c"/>
<rect x="961.1" y="632.6" width="6.2" height="3.0" fill="#666"/><rect x="961.1" y="632.6" width="6.2" height="1.2" fill="#8c8c8c"/>
<rect x="968.3" y="632.6" width="6.2" height="3.0" fill="#666"/><rect x="968.3" y="632.6" width="6.2" height="1.2" fill="#8c8c8c"/>
<rect x="975.5" y="632.6" width="6.2" height="3.0" fill="#666"/><rect x="975.5" y="632.6" width="6.2" height="1.2" fill="#8c8c8c"/>
<rect x="982.7" y="632.6" width="6.2" height="3.0" fill="#666"/><rect x="982.7" y="632.6" width="6.2" height="1.2" fill="#8c8c8c"/>
<rect x="989.9" y="632.6" width="6.2" height="3.0" fill="#666"/><rect x="989.9" y="632.6" width="6.2" height="1.2" fill="#8c8c8c"/>
<rect x="997.1" y="632.6" width="6.2" height="3.0" fill="#666"/><rect x="997.1" y="632.6" width="6.2" height="1.2" fill="#8c8c8c"/>
<rect x="1004.3" y="632.6" width="6.2" height="3.0" fill="#666"/><rect x="1004.3" y="632.6" width="6.2" height="1.2" fill="#8c8c8c"/>
<rect x="1015.0" y="632.6" width="6.2" height="3.0" fill="#666"/><rect x="1015.0" y="632.6" width="6.2" height="1.2" fill="#8c8c8c"/>
<rect x="1022.2" y="632.6" width="6.2" height="3.0" fill="#666"/><rect x="1022.2" y="632.6" width="6.2" height="1.2" fill="#8c8c8c"/>
<rect x="1029.4" y="632.6" width="6.2" height="3.0" fill="#666"/><rect x="1029.4" y="632.6" width="6.2" height="1.2" fill="#8c8c8c"/>
<rect x="1036.6" y="632.6" width="6.2" height="3.0" fill="#666"/><rect x="1036.6" y="632.6" width="6.2" height="1.2" fill="#8c8c8c"/>
<rect x="1043.8" y="632.6" width="6.2" height="3.0" fill="#666"/><rect x="1043.8" y="632.6" width="6.2" height="1.2" fill="#8c8c8c"/>
<rect x="1051.0" y="632.6" width="6.2" height="3.0" fill="#666"/><rect x="1051.0" y="632.6" width="6.2" height="1.2" fill="#8c8c8c"/>
<rect x="1061.0" y="632.6" width="6.2" height="3.0" fill="#666"/><rect x="1061.0" y="632.6" width="6.2" height="1.2" fill="#8c8c8c"/>
<rect x="1068.2" y="632.6" width="6.2" height="3.0" fill="#666"/><rect x="1068.2" y="632.6" width="6.2" height="1.2" fill="#8c8c8c"/>
<rect x="1075.4" y="632.6" width="6.2" height="3.0" fill="#666"/><rect x="1075.4" y="632.6" width="6.2" height="1.2" fill="#8c8c8c"/>
<rect x="1082.6" y="632.6" width="6.2" height="3.0" fill="#666"/><rect x="1082.6" y="632.6" width="6.2" height="1.2" fill="#8c8c8c"/>
<rect x="1089.8" y="632.6" width="6.2" height="3.0" fill="#666"/><rect x="1089.8" y="632.6" width="6.2" height="1.2" fill="#8c8c8c"/>
<rect x="1097.0" y="632.6" width="6.2" height="3.0" fill="#666"/><rect x="1097.0" y="632.6" width="6.2" height="1.2" fill="#8c8c8c"/>
<rect x="873.8" y="636.0" width="6.2" height="3.2" fill="#666"/><rect x="873.8" y="636.0" width="6.2" height="1.2" fill="#8c8c8c"/>
<rect x="881.0" y="636.0" width="6.2" height="3.2" fill="#666"/><rect x="881.0" y="636.0" width="6.2" height="1.2" fill="#8c8c8c"/>
<rect x="888.2" y="636.0" width="6.2" height="3.2" fill="#666"/><rect x="888.2" y="636.0" width="6.2" height="1.2" fill="#8c8c8c"/>
<rect x="895.4" y="636.0" width="6.2" height="3.2" fill="#666"/><rect x="895.4" y="636.0" width="6.2" height="1.2" fill="#8c8c8c"/>
<rect x="902.6" y="636.0" width="6.2" height="3.2" fill="#666"/><rect x="902.6" y="636.0" width="6.2" height="1.2" fill="#8c8c8c"/>
<rect x="909.8" y="636.0" width="50" height="3.2" fill="#666"/><rect x="909.8" y="636.0" width="50" height="1.2" fill="#8c8c8c"/>
<rect x="960.8" y="636.0" width="6.2" height="3.2" fill="#666"/><rect x="960.8" y="636.0" width="6.2" height="1.2" fill="#8c8c8c"/>
<rect x="968.0" y="636.0" width="6.2" height="3.2" fill="#666"/><rect x="968.0" y="636.0" width="6.2" height="1.2" fill="#8c8c8c"/>
<rect x="975.2" y="636.0" width="6.2" height="3.2" fill="#666"/><rect x="975.2" y="636.0" width="6.2" height="1.2" fill="#8c8c8c"/>
<rect x="982.4" y="636.0" width="6.2" height="3.2" fill="#666"/><rect x="982.4" y="636.0" width="6.2" height="1.2" fill="#8c8c8c"/>
<rect x="989.6" y="636.0" width="6.2" height="3.2" fill="#666"/><rect x="989.6" y="636.0" width="6.2" height="1.2" fill="#8c8c8c"/>
<rect x="996.8" y="636.0" width="6.2" height="3.2" fill="#666"/><rect x="996.8" y="636.0" width="6.2" height="1.2" fill="#8c8c8c"/>
<rect x="1004.0" y="636.0" width="6.2" height="3.2" fill="#666"/><rect x="1004.0" y="636.0" width="6.2" height="1.2" fill="#8c8c8c"/>
<rect x="1015.0" y="636.0" width="6.2" height="3.2" fill="#666"/><rect x="1015.0" y="636.0" width="6.2" height="1.2" fill="#8c8c8c"/>
<rect x="1022.2" y="636.0" width="6.2" height="3.2" fill="#666"/><rect x="1022.2" y="636.0" width="6.2" height="1.2" fill="#8c8c8c"/>
<rect x="1029.4" y="636.0" width="6.2" height="3.2" fill="#666"/><rect x="1029.4" y="636.0" width="6.2" height="1.2" fill="#8c8c8c"/>
<rect x="1036.6" y="636.0" width="6.2" height="3.2" fill="#666"/><rect x="1036.6" y="636.0" width="6.2" height="1.2" fill="#8c8c8c"/>
<rect x="1043.8" y="636.0" width="6.2" height="3.2" fill="#666"/><rect x="1043.8" y="636.0" width="6.2" height="1.2" fill="#8c8c8c"/>
<rect x="1051.0" y="636.0" width="6.2" height="3.2" fill="#666"/><rect x="1051.0" y="636.0" width="6.2" height="1.2" fill="#8c8c8c"/>
<rect x="1061.0" y="636.0" width="6.2" height="3.2" fill="#666"/><rect x="1061.0" y="636.0" width="6.2" height="1.2" fill="#8c8c8c"/>
<rect x="1068.2" y="636.0" width="6.2" height="3.2" fill="#666"/><rect x="1068.2" y="636.0" width="6.2" height="1.2" fill="#8c8c8c"/>
<rect x="1075.4" y="636.0" width="6.2" height="3.2" fill="#666"/><rect x="1075.4" y="636.0" width="6.2" height="1.2" fill="#8c8c8c"/>
<rect x="1082.6" y="636.0" width="6.2" height="3.2" fill="#666"/><rect x="1082.6" y="636.0" width="6.2" height="1.2" fill="#8c8c8c"/>
<rect x="1089.8" y="636.0" width="6.2" height="3.2" fill="#666"/><rect x="1089.8" y="636.0" width="6.2" height="1.2" fill="#8c8c8c"/>
<rect x="1097.0" y="636.0" width="6.2" height="3.2" fill="#666"/><rect x="1097.0" y="636.0" width="6.2" height="1.2" fill="#8c8c8c"/>
<ellipse cx="1148.5" cy="636.2" rx="17" ry="9.8" fill="#454545"/>
<ellipse cx="1150" cy="634.8" rx="14.5" ry="8" fill="url(#mouseG)"/>
<ellipse cx="1136.5" cy="637" rx="5" ry="5.5" fill="#cfcfcf" opacity=".85" transform="rotate(-20 1137 636.5)"/>
</g><g id="plc">
<rect x="159" y="482" width="453" height="107.5" fill="#4d535b"/>
<rect x="159.4" y="482" width="38.6" height="107" fill="#50565e"/>
<rect x="159.4" y="482" width="38.6" height="3.5" fill="#3a3e44"/>
<rect x="160.4" y="485.5" width="36.6" height="6.5" fill="#8e2a33"/>
<rect x="160.4" y="492" width="36.6" height="1.2" fill="#d9b5b8"/>
<rect x="161.4" y="487" width="6" height="3" fill="#e0c0c0" opacity=".7"/>
<rect x="189.0" y="487" width="6" height="3" fill="#d8a8a8" opacity=".6"/>
<rect x="198.0" y="482" width="39.3" height="107" fill="#50565e"/>
<rect x="198.0" y="482" width="39.3" height="3.5" fill="#3a3e44"/>
<rect x="199.0" y="485.5" width="37.3" height="6.5" fill="#8e2a33"/>
<rect x="199.0" y="492" width="37.3" height="1.2" fill="#d9b5b8"/>
<rect x="200.0" y="487" width="6" height="3" fill="#e0c0c0" opacity=".7"/>
<rect x="228.3" y="487" width="6" height="3" fill="#d8a8a8" opacity=".6"/>
<rect x="237.3" y="482" width="95.1" height="107" fill="#50565e"/>
<rect x="237.3" y="482" width="95.1" height="3.5" fill="#3a3e44"/>
<rect x="238.3" y="485.5" width="93.1" height="6.5" fill="#8e2a33"/>
<rect x="238.3" y="492" width="93.1" height="1.2" fill="#d9b5b8"/>
<rect x="239.3" y="487" width="6" height="3" fill="#e0c0c0" opacity=".7"/>
<rect x="323.4" y="487" width="6" height="3" fill="#d8a8a8" opacity=".6"/>
<rect x="332.4" y="482" width="93.6" height="107" fill="#50565e"/>
<rect x="332.4" y="482" width="93.6" height="3.5" fill="#3a3e44"/>
<rect x="333.4" y="485.5" width="91.6" height="6.5" fill="#8e2a33"/>
<rect x="333.4" y="492" width="91.6" height="1.2" fill="#d9b5b8"/>
<rect x="334.4" y="487" width="6" height="3" fill="#e0c0c0" opacity=".7"/>
<rect x="417.0" y="487" width="6" height="3" fill="#d8a8a8" opacity=".6"/>
<rect x="426.0" y="482" width="93.6" height="107" fill="#50565e"/>
<rect x="426.0" y="482" width="93.6" height="3.5" fill="#3a3e44"/>
<rect x="427.0" y="485.5" width="91.6" height="6.5" fill="#8e2a33"/>
<rect x="427.0" y="492" width="91.6" height="1.2" fill="#d9b5b8"/>
<rect x="428.0" y="487" width="6" height="3" fill="#e0c0c0" opacity=".7"/>
<rect x="510.6" y="487" width="6" height="3" fill="#d8a8a8" opacity=".6"/>
<rect x="519.6" y="482" width="92.2" height="107" fill="#50565e"/>
<rect x="519.6" y="482" width="92.2" height="3.5" fill="#3a3e44"/>
<rect x="520.6" y="485.5" width="90.2" height="6.5" fill="#8e2a33"/>
<rect x="520.6" y="492" width="90.2" height="1.2" fill="#d9b5b8"/>
<rect x="521.6" y="487" width="6" height="3" fill="#e0c0c0" opacity=".7"/>
<rect x="602.8" y="487" width="6" height="3" fill="#d8a8a8" opacity=".6"/>
<rect x="196.8" y="482" width="2.4" height="107" fill="#25282d"/>
<rect x="236.1" y="482" width="2.4" height="107" fill="#25282d"/>
<rect x="331.2" y="482" width="2.4" height="107" fill="#25282d"/>
<rect x="424.8" y="482" width="2.4" height="107" fill="#25282d"/>
<rect x="518.4" y="482" width="2.4" height="107" fill="#25282d"/>
<rect x="164.6" y="576" width="27.4" height="11.5" fill="#eef0ee"/>
<rect x="203.5" y="576" width="27.5" height="11.5" fill="#eef0ee"/>
<rect x="242.5" y="576" width="27.5" height="11.5" fill="#eef0ee"/>
<rect x="337.7" y="576" width="25.6" height="11.5" fill="#eef0ee"/>
<rect x="431" y="576" width="27" height="11.5" fill="#eef0ee"/>
<rect x="526" y="576" width="25.6" height="11.5" fill="#eef0ee"/>
<rect x="174.7" y="505.3" width="2.2" height="3" fill="#1a1c1f"/>
<rect x="165.7" y="506.2" width="6" height="1.3" fill="#8a9098" opacity=".6"/>
<rect x="174.7" y="511.3" width="2.2" height="3" fill="#1a1c1f"/>
<rect x="165.7" y="512.2" width="6" height="1.3" fill="#8a9098" opacity=".6"/>
<rect x="174.7" y="518.2" width="2.2" height="3" fill="#1a1c1f"/>
<rect x="165.7" y="519.1" width="6" height="1.3" fill="#8a9098" opacity=".6"/>
<rect x="174.7" y="524.1" width="2.2" height="3" fill="#1a1c1f"/>
<rect x="165.7" y="525.0" width="6" height="1.3" fill="#8a9098" opacity=".6"/>
<rect x="174.7" y="530.1" width="2.2" height="3" fill="#1a1c1f"/>
<rect x="165.7" y="531.0" width="6" height="1.3" fill="#8a9098" opacity=".6"/>
<rect x="214.0" y="505.3" width="2.2" height="3" fill="#1a1c1f"/>
<rect x="205.0" y="506.2" width="6" height="1.3" fill="#8a9098" opacity=".6"/>
<rect x="214.0" y="511.3" width="2.2" height="3" fill="#1a1c1f"/>
<rect x="205.0" y="512.2" width="6" height="1.3" fill="#8a9098" opacity=".6"/>
<rect x="214.0" y="518.2" width="2.2" height="3" fill="#1a1c1f"/>
<rect x="205.0" y="519.1" width="6" height="1.3" fill="#8a9098" opacity=".6"/>
<rect x="214.0" y="524.1" width="2.2" height="3" fill="#1a1c1f"/>
<rect x="205.0" y="525.0" width="6" height="1.3" fill="#8a9098" opacity=".6"/>
<rect x="214.0" y="530.1" width="2.2" height="3" fill="#1a1c1f"/>
<rect x="205.0" y="531.0" width="6" height="1.3" fill="#8a9098" opacity=".6"/>
<circle cx="179.1" cy="544.5" r="6" fill="#3f444b"/><circle cx="179.1" cy="544.5" r="3.4" fill="#e8e8e8"/>
<rect x="186" y="542.5" width="7" height="1.2" fill="#8a9098" opacity=".6"/><rect x="186" y="545.0" width="7" height="1.2" fill="#8a9098" opacity=".6"/>
<circle cx="179.1" cy="561.6" r="6" fill="#3f444b"/><circle cx="179.1" cy="561.6" r="3.4" fill="#e8e8e8"/>
<rect x="186" y="559.6" width="7" height="1.2" fill="#8a9098" opacity=".6"/><rect x="186" y="562.1" width="7" height="1.2" fill="#8a9098" opacity=".6"/>
<rect x="252.7" y="495.7" width="52.3" height="19.7" fill="#2f3430"/>
<rect x="254" y="497" width="49.7" height="17.1" fill="#4b5449"/>
<ellipse cx="277.6" cy="532.5" rx="6" ry="4.2" fill="#2b2f35"/><ellipse cx="277.6" cy="532.5" rx="4.6" ry="3" fill="#c3c8cc"/>
<ellipse cx="294.7" cy="532.5" rx="6" ry="4.2" fill="#2b2f35"/><ellipse cx="294.7" cy="532.5" rx="4.6" ry="3" fill="#c3c8cc"/>
<ellipse cx="277.6" cy="544" rx="6" ry="4.2" fill="#2b2f35"/><ellipse cx="277.6" cy="544" rx="4.6" ry="3" fill="#c3c8cc"/>
<ellipse cx="294.7" cy="544" rx="6" ry="4.2" fill="#2b2f35"/><ellipse cx="294.7" cy="544" rx="4.6" ry="3" fill="#c3c8cc"/>
<ellipse cx="277.6" cy="555.6" rx="6" ry="4.2" fill="#2b2f35"/><ellipse cx="277.6" cy="555.6" rx="4.6" ry="3" fill="#c3c8cc"/>
<ellipse cx="294.7" cy="555.6" rx="6" ry="4.2" fill="#2b2f35"/><ellipse cx="294.7" cy="555.6" rx="4.6" ry="3" fill="#c3c8cc"/>
<ellipse cx="277.6" cy="566.7" rx="6" ry="4.2" fill="#2b2f35"/><ellipse cx="277.6" cy="566.7" rx="4.6" ry="3" fill="#c3c8cc"/>
<ellipse cx="294.7" cy="566.7" rx="6" ry="4.2" fill="#2b2f35"/><ellipse cx="294.7" cy="566.7" rx="4.6" ry="3" fill="#c3c8cc"/>
<rect x="244" y="528" width="9.5" height="8" fill="#111"/><rect x="245" y="529" width="7.5" height="3" fill="#eee"/>
<rect x="243" y="522" width="22" height="50" fill="none" stroke="#454a51" stroke-width=".8"/>
<rect x="245" y="540" width="16" height="1.3" fill="#9aa0a8" opacity=".55"/>
<rect x="245" y="545" width="12" height="1.3" fill="#9aa0a8" opacity=".55"/>
<rect x="245" y="550" width="16" height="1.3" fill="#9aa0a8" opacity=".55"/>
<rect x="245" y="555" width="12" height="1.3" fill="#9aa0a8" opacity=".55"/>
<rect x="245" y="559" width="16" height="1.3" fill="#9aa0a8" opacity=".55"/>
<ellipse cx="316" cy="540" rx="5" ry="12" fill="#5e646c"/>
<rect x="240" y="499" width="10" height="1.3" fill="#9aa0a8" opacity=".5"/>
<rect x="307" y="499" width="8" height="1.3" fill="#9aa0a8" opacity=".5"/>
<rect x="240" y="504" width="10" height="1.3" fill="#9aa0a8" opacity=".5"/>
<rect x="307" y="504" width="8" height="1.3" fill="#9aa0a8" opacity=".5"/>
<rect x="240" y="509" width="10" height="1.3" fill="#9aa0a8" opacity=".5"/>
<rect x="307" y="509" width="8" height="1.3" fill="#9aa0a8" opacity=".5"/>
<rect x="259" y="518" width="6" height="1.3" fill="#9aa0a8" opacity=".5"/>
<rect x="274.6" y="518" width="6" height="1.3" fill="#9aa0a8" opacity=".5"/>
<rect x="291.7" y="518" width="6" height="1.3" fill="#9aa0a8" opacity=".5"/>
<rect x="305" y="560" width="22" height="1.3" fill="#9aa0a8" opacity=".45"/><rect x="305" y="565" width="20" height="1.3" fill="#9aa0a8" opacity=".45"/>
<rect x="305" y="577" width="22" height="1.3" fill="#9aa0a8" opacity=".45"/><rect x="305" y="581" width="22" height="1.3" fill="#9aa0a8" opacity=".45"/>
<rect x="340" y="502" width="77" height="69" fill="#474d55" stroke="#6d737b" stroke-width=".8"/>
<rect x="343.0" y="504" width="16" height="65" fill="none" stroke="#7a8088" stroke-width=".6"/>
<rect x="344.0" y="506.0" width="9" height="1.6" fill="#a9afb6" opacity=".7"/>
<rect x="354.5" y="505.0" width="3.2" height="3.8" fill="#15171a"/>
<rect x="344.0" y="512.3" width="9" height="1.6" fill="#a9afb6" opacity=".7"/>
<rect x="354.5" y="511.3" width="3.2" height="3.8" fill="#15171a"/>
<rect x="344.0" y="518.6" width="9" height="1.6" fill="#a9afb6" opacity=".7"/>
<rect x="354.5" y="517.6" width="3.2" height="3.8" fill="#15171a"/>
<rect x="344.0" y="524.9" width="9" height="1.6" fill="#a9afb6" opacity=".7"/>
<rect x="354.5" y="523.9" width="3.2" height="3.8" fill="#15171a"/>
<rect x="344.0" y="531.2" width="9" height="1.6" fill="#a9afb6" opacity=".7"/>
<rect x="354.5" y="530.2" width="3.2" height="3.8" fill="#15171a"/>
<rect x="344.0" y="537.5" width="9" height="1.6" fill="#a9afb6" opacity=".7"/>
<rect x="354.5" y="536.5" width="3.2" height="3.8" fill="#15171a"/>
<rect x="344.0" y="543.8" width="9" height="1.6" fill="#a9afb6" opacity=".7"/>
<rect x="354.5" y="542.8" width="3.2" height="3.8" fill="#15171a"/>
<rect x="344.0" y="550.1" width="9" height="1.6" fill="#a9afb6" opacity=".7"/>
<rect x="354.5" y="549.1" width="3.2" height="3.8" fill="#15171a"/>
<rect x="344.0" y="556.4" width="9" height="1.6" fill="#a9afb6" opacity=".7"/>
<rect x="354.5" y="555.4" width="3.2" height="3.8" fill="#15171a"/>
<rect x="344.0" y="562.7" width="9" height="1.6" fill="#a9afb6" opacity=".7"/>
<rect x="354.5" y="561.7" width="3.2" height="3.8" fill="#15171a"/>
<rect x="362.2" y="504" width="16" height="65" fill="none" stroke="#7a8088" stroke-width=".6"/>
<rect x="363.2" y="506.0" width="9" height="1.6" fill="#a9afb6" opacity=".7"/>
<rect x="373.7" y="505.0" width="3.2" height="3.8" fill="#15171a"/>
<rect x="363.2" y="512.3" width="9" height="1.6" fill="#a9afb6" opacity=".7"/>
<rect x="373.7" y="511.3" width="3.2" height="3.8" fill="#15171a"/>
<rect x="363.2" y="518.6" width="9" height="1.6" fill="#a9afb6" opacity=".7"/>
<rect x="373.7" y="517.6" width="3.2" height="3.8" fill="#15171a"/>
<rect x="363.2" y="524.9" width="9" height="1.6" fill="#a9afb6" opacity=".7"/>
<rect x="373.7" y="523.9" width="3.2" height="3.8" fill="#15171a"/>
<rect x="363.2" y="531.2" width="9" height="1.6" fill="#a9afb6" opacity=".7"/>
<rect x="373.7" y="530.2" width="3.2" height="3.8" fill="#15171a"/>
<rect x="363.2" y="537.5" width="9" height="1.6" fill="#a9afb6" opacity=".7"/>
<rect x="373.7" y="536.5" width="3.2" height="3.8" fill="#15171a"/>
<rect x="363.2" y="543.8" width="9" height="1.6" fill="#a9afb6" opacity=".7"/>
<rect x="373.7" y="542.8" width="3.2" height="3.8" fill="#15171a"/>
<rect x="363.2" y="550.1" width="9" height="1.6" fill="#a9afb6" opacity=".7"/>
<rect x="373.7" y="549.1" width="3.2" height="3.8" fill="#15171a"/>
<rect x="363.2" y="556.4" width="9" height="1.6" fill="#a9afb6" opacity=".7"/>
<rect x="373.7" y="555.4" width="3.2" height="3.8" fill="#15171a"/>
<rect x="363.2" y="562.7" width="9" height="1.6" fill="#a9afb6" opacity=".7"/>
<rect x="373.7" y="561.7" width="3.2" height="3.8" fill="#15171a"/>
<rect x="381.4" y="504" width="16" height="65" fill="none" stroke="#7a8088" stroke-width=".6"/>
<rect x="382.4" y="506.0" width="9" height="1.6" fill="#a9afb6" opacity=".7"/>
<rect x="392.9" y="505.0" width="3.2" height="3.8" fill="#15171a"/>
<rect x="382.4" y="512.3" width="9" height="1.6" fill="#a9afb6" opacity=".7"/>
<rect x="392.9" y="511.3" width="3.2" height="3.8" fill="#15171a"/>
<rect x="382.4" y="518.6" width="9" height="1.6" fill="#a9afb6" opacity=".7"/>
<rect x="392.9" y="517.6" width="3.2" height="3.8" fill="#15171a"/>
<rect x="382.4" y="524.9" width="9" height="1.6" fill="#a9afb6" opacity=".7"/>
<rect x="392.9" y="523.9" width="3.2" height="3.8" fill="#15171a"/>
<rect x="382.4" y="531.2" width="9" height="1.6" fill="#a9afb6" opacity=".7"/>
<rect x="392.9" y="530.2" width="3.2" height="3.8" fill="#15171a"/>
<rect x="382.4" y="537.5" width="9" height="1.6" fill="#a9afb6" opacity=".7"/>
<rect x="392.9" y="536.5" width="3.2" height="3.8" fill="#15171a"/>
<rect x="382.4" y="543.8" width="9" height="1.6" fill="#a9afb6" opacity=".7"/>
<rect x="392.9" y="542.8" width="3.2" height="3.8" fill="#15171a"/>
<rect x="382.4" y="550.1" width="9" height="1.6" fill="#a9afb6" opacity=".7"/>
<rect x="392.9" y="549.1" width="3.2" height="3.8" fill="#15171a"/>
<rect x="382.4" y="556.4" width="9" height="1.6" fill="#a9afb6" opacity=".7"/>
<rect x="392.9" y="555.4" width="3.2" height="3.8" fill="#15171a"/>
<rect x="382.4" y="562.7" width="9" height="1.6" fill="#a9afb6" opacity=".7"/>
<rect x="392.9" y="561.7" width="3.2" height="3.8" fill="#15171a"/>
<rect x="400.6" y="504" width="16" height="65" fill="none" stroke="#7a8088" stroke-width=".6"/>
<rect x="401.6" y="506.0" width="9" height="1.6" fill="#a9afb6" opacity=".7"/>
<rect x="412.1" y="505.0" width="3.2" height="3.8" fill="#15171a"/>
<rect x="401.6" y="512.3" width="9" height="1.6" fill="#a9afb6" opacity=".7"/>
<rect x="412.1" y="511.3" width="3.2" height="3.8" fill="#15171a"/>
<rect x="401.6" y="518.6" width="9" height="1.6" fill="#a9afb6" opacity=".7"/>
<rect x="412.1" y="517.6" width="3.2" height="3.8" fill="#15171a"/>
<rect x="401.6" y="524.9" width="9" height="1.6" fill="#a9afb6" opacity=".7"/>
<rect x="412.1" y="523.9" width="3.2" height="3.8" fill="#15171a"/>
<rect x="401.6" y="531.2" width="9" height="1.6" fill="#a9afb6" opacity=".7"/>
<rect x="412.1" y="530.2" width="3.2" height="3.8" fill="#15171a"/>
<rect x="401.6" y="537.5" width="9" height="1.6" fill="#a9afb6" opacity=".7"/>
<rect x="412.1" y="536.5" width="3.2" height="3.8" fill="#15171a"/>
<rect x="401.6" y="543.8" width="9" height="1.6" fill="#a9afb6" opacity=".7"/>
<rect x="412.1" y="542.8" width="3.2" height="3.8" fill="#15171a"/>
<rect x="401.6" y="550.1" width="9" height="1.6" fill="#a9afb6" opacity=".7"/>
<rect x="412.1" y="549.1" width="3.2" height="3.8" fill="#15171a"/>
<rect x="401.6" y="556.4" width="9" height="1.6" fill="#a9afb6" opacity=".7"/>
<rect x="412.1" y="555.4" width="3.2" height="3.8" fill="#15171a"/>
<rect x="401.6" y="562.7" width="9" height="1.6" fill="#a9afb6" opacity=".7"/>
<rect x="412.1" y="561.7" width="3.2" height="3.8" fill="#15171a"/>
<rect x="400" y="576.5" width="17" height="1.3" fill="#9aa0a8" opacity=".5"/>
<rect x="400" y="581" width="17" height="1.3" fill="#9aa0a8" opacity=".5"/>
<rect x="400" y="585" width="17" height="1.3" fill="#9aa0a8" opacity=".5"/>
<rect x="433.5" y="502" width="77" height="69" fill="#474d55" stroke="#6d737b" stroke-width=".8"/>
<rect x="436.5" y="504" width="16" height="65" fill="none" stroke="#7a8088" stroke-width=".6"/>
<rect x="437.5" y="506.0" width="9" height="1.6" fill="#a9afb6" opacity=".7"/>
<rect x="448.0" y="505.0" width="3.2" height="3.8" fill="#15171a"/>
<rect x="437.5" y="512.3" width="9" height="1.6" fill="#a9afb6" opacity=".7"/>
<rect x="448.0" y="511.3" width="3.2" height="3.8" fill="#15171a"/>
<rect x="437.5" y="518.6" width="9" height="1.6" fill="#a9afb6" opacity=".7"/>
<rect x="448.0" y="517.6" width="3.2" height="3.8" fill="#15171a"/>
<rect x="437.5" y="524.9" width="9" height="1.6" fill="#a9afb6" opacity=".7"/>
<rect x="448.0" y="523.9" width="3.2" height="3.8" fill="#15171a"/>
<rect x="437.5" y="531.2" width="9" height="1.6" fill="#a9afb6" opacity=".7"/>
<rect x="448.0" y="530.2" width="3.2" height="3.8" fill="#15171a"/>
<rect x="437.5" y="537.5" width="9" height="1.6" fill="#a9afb6" opacity=".7"/>
<rect x="448.0" y="536.5" width="3.2" height="3.8" fill="#15171a"/>
<rect x="437.5" y="543.8" width="9" height="1.6" fill="#a9afb6" opacity=".7"/>
<rect x="448.0" y="542.8" width="3.2" height="3.8" fill="#15171a"/>
<rect x="437.5" y="550.1" width="9" height="1.6" fill="#a9afb6" opacity=".7"/>
<rect x="448.0" y="549.1" width="3.2" height="3.8" fill="#15171a"/>
<rect x="437.5" y="556.4" width="9" height="1.6" fill="#a9afb6" opacity=".7"/>
<rect x="448.0" y="555.4" width="3.2" height="3.8" fill="#15171a"/>
<rect x="437.5" y="562.7" width="9" height="1.6" fill="#a9afb6" opacity=".7"/>
<rect x="448.0" y="561.7" width="3.2" height="3.8" fill="#15171a"/>
<rect x="455.7" y="504" width="16" height="65" fill="none" stroke="#7a8088" stroke-width=".6"/>
<rect x="456.7" y="506.0" width="9" height="1.6" fill="#a9afb6" opacity=".7"/>
<rect x="467.2" y="505.0" width="3.2" height="3.8" fill="#15171a"/>
<rect x="456.7" y="512.3" width="9" height="1.6" fill="#a9afb6" opacity=".7"/>
<rect x="467.2" y="511.3" width="3.2" height="3.8" fill="#15171a"/>
<rect x="456.7" y="518.6" width="9" height="1.6" fill="#a9afb6" opacity=".7"/>
<rect x="467.2" y="517.6" width="3.2" height="3.8" fill="#15171a"/>
<rect x="456.7" y="524.9" width="9" height="1.6" fill="#a9afb6" opacity=".7"/>
<rect x="467.2" y="523.9" width="3.2" height="3.8" fill="#15171a"/>
<rect x="456.7" y="531.2" width="9" height="1.6" fill="#a9afb6" opacity=".7"/>
<rect x="467.2" y="530.2" width="3.2" height="3.8" fill="#15171a"/>
<rect x="456.7" y="537.5" width="9" height="1.6" fill="#a9afb6" opacity=".7"/>
<rect x="467.2" y="536.5" width="3.2" height="3.8" fill="#15171a"/>
<rect x="456.7" y="543.8" width="9" height="1.6" fill="#a9afb6" opacity=".7"/>
<rect x="467.2" y="542.8" width="3.2" height="3.8" fill="#15171a"/>
<rect x="456.7" y="550.1" width="9" height="1.6" fill="#a9afb6" opacity=".7"/>
<rect x="467.2" y="549.1" width="3.2" height="3.8" fill="#15171a"/>
<rect x="456.7" y="556.4" width="9" height="1.6" fill="#a9afb6" opacity=".7"/>
<rect x="467.2" y="555.4" width="3.2" height="3.8" fill="#15171a"/>
<rect x="456.7" y="562.7" width="9" height="1.6" fill="#a9afb6" opacity=".7"/>
<rect x="467.2" y="561.7" width="3.2" height="3.8" fill="#15171a"/>
<rect x="474.9" y="504" width="16" height="65" fill="none" stroke="#7a8088" stroke-width=".6"/>
<rect x="475.9" y="506.0" width="9" height="1.6" fill="#a9afb6" opacity=".7"/>
<rect x="486.4" y="505.0" width="3.2" height="3.8" fill="#15171a"/>
<rect x="475.9" y="512.3" width="9" height="1.6" fill="#a9afb6" opacity=".7"/>
<rect x="486.4" y="511.3" width="3.2" height="3.8" fill="#15171a"/>
<rect x="475.9" y="518.6" width="9" height="1.6" fill="#a9afb6" opacity=".7"/>
<rect x="486.4" y="517.6" width="3.2" height="3.8" fill="#15171a"/>
<rect x="475.9" y="524.9" width="9" height="1.6" fill="#a9afb6" opacity=".7"/>
<rect x="486.4" y="523.9" width="3.2" height="3.8" fill="#15171a"/>
<rect x="475.9" y="531.2" width="9" height="1.6" fill="#a9afb6" opacity=".7"/>
<rect x="486.4" y="530.2" width="3.2" height="3.8" fill="#15171a"/>
<rect x="475.9" y="537.5" width="9" height="1.6" fill="#a9afb6" opacity=".7"/>
<rect x="486.4" y="536.5" width="3.2" height="3.8" fill="#15171a"/>
<rect x="475.9" y="543.8" width="9" height="1.6" fill="#a9afb6" opacity=".7"/>
<rect x="486.4" y="542.8" width="3.2" height="3.8" fill="#15171a"/>
<rect x="475.9" y="550.1" width="9" height="1.6" fill="#a9afb6" opacity=".7"/>
<rect x="486.4" y="549.1" width="3.2" height="3.8" fill="#15171a"/>
<rect x="475.9" y="556.4" width="9" height="1.6" fill="#a9afb6" opacity=".7"/>
<rect x="486.4" y="555.4" width="3.2" height="3.8" fill="#15171a"/>
<rect x="475.9" y="562.7" width="9" height="1.6" fill="#a9afb6" opacity=".7"/>
<rect x="486.4" y="561.7" width="3.2" height="3.8" fill="#15171a"/>
<rect x="494.1" y="504" width="16" height="65" fill="none" stroke="#7a8088" stroke-width=".6"/>
<rect x="495.1" y="506.0" width="9" height="1.6" fill="#a9afb6" opacity=".7"/>
<rect x="505.6" y="505.0" width="3.2" height="3.8" fill="#15171a"/>
<rect x="495.1" y="512.3" width="9" height="1.6" fill="#a9afb6" opacity=".7"/>
<rect x="505.6" y="511.3" width="3.2" height="3.8" fill="#15171a"/>
<rect x="495.1" y="518.6" width="9" height="1.6" fill="#a9afb6" opacity=".7"/>
<rect x="505.6" y="517.6" width="3.2" height="3.8" fill="#15171a"/>
<rect x="495.1" y="524.9" width="9" height="1.6" fill="#a9afb6" opacity=".7"/>
<rect x="505.6" y="523.9" width="3.2" height="3.8" fill="#15171a"/>
<rect x="495.1" y="531.2" width="9" height="1.6" fill="#a9afb6" opacity=".7"/>
<rect x="505.6" y="530.2" width="3.2" height="3.8" fill="#15171a"/>
<rect x="495.1" y="537.5" width="9" height="1.6" fill="#a9afb6" opacity=".7"/>
<rect x="505.6" y="536.5" width="3.2" height="3.8" fill="#15171a"/>
<rect x="495.1" y="543.8" width="9" height="1.6" fill="#a9afb6" opacity=".7"/>
<rect x="505.6" y="542.8" width="3.2" height="3.8" fill="#15171a"/>
<rect x="495.1" y="550.1" width="9" height="1.6" fill="#a9afb6" opacity=".7"/>
<rect x="505.6" y="549.1" width="3.2" height="3.8" fill="#15171a"/>
<rect x="495.1" y="556.4" width="9" height="1.6" fill="#a9afb6" opacity=".7"/>
<rect x="505.6" y="555.4" width="3.2" height="3.8" fill="#15171a"/>
<rect x="495.1" y="562.7" width="9" height="1.6" fill="#a9afb6" opacity=".7"/>
<rect x="505.6" y="561.7" width="3.2" height="3.8" fill="#15171a"/>
<rect x="493.5" y="576.5" width="17" height="1.3" fill="#9aa0a8" opacity=".5"/>
<rect x="493.5" y="581" width="17" height="1.3" fill="#9aa0a8" opacity=".5"/>
<rect x="493.5" y="585" width="17" height="1.3" fill="#9aa0a8" opacity=".5"/>
<rect x="528" y="502" width="77" height="69" fill="#474d55" stroke="#6d737b" stroke-width=".8"/>
<rect x="531.0" y="504" width="16" height="65" fill="none" stroke="#7a8088" stroke-width=".6"/>
<rect x="532.0" y="506.0" width="9" height="1.6" fill="#a9afb6" opacity=".7"/>
<rect x="542.5" y="505.0" width="3.2" height="3.8" fill="#15171a"/>
<rect x="532.0" y="512.3" width="9" height="1.6" fill="#a9afb6" opacity=".7"/>
<rect x="542.5" y="511.3" width="3.2" height="3.8" fill="#15171a"/>
<rect x="532.0" y="518.6" width="9" height="1.6" fill="#a9afb6" opacity=".7"/>
<rect x="542.5" y="517.6" width="3.2" height="3.8" fill="#15171a"/>
<rect x="532.0" y="524.9" width="9" height="1.6" fill="#a9afb6" opacity=".7"/>
<rect x="542.5" y="523.9" width="3.2" height="3.8" fill="#15171a"/>
<rect x="532.0" y="531.2" width="9" height="1.6" fill="#a9afb6" opacity=".7"/>
<rect x="542.5" y="530.2" width="3.2" height="3.8" fill="#15171a"/>
<rect x="532.0" y="537.5" width="9" height="1.6" fill="#a9afb6" opacity=".7"/>
<rect x="542.5" y="536.5" width="3.2" height="3.8" fill="#15171a"/>
<rect x="532.0" y="543.8" width="9" height="1.6" fill="#a9afb6" opacity=".7"/>
<rect x="542.5" y="542.8" width="3.2" height="3.8" fill="#15171a"/>
<rect x="532.0" y="550.1" width="9" height="1.6" fill="#a9afb6" opacity=".7"/>
<rect x="542.5" y="549.1" width="3.2" height="3.8" fill="#15171a"/>
<rect x="532.0" y="556.4" width="9" height="1.6" fill="#a9afb6" opacity=".7"/>
<rect x="542.5" y="555.4" width="3.2" height="3.8" fill="#15171a"/>
<rect x="532.0" y="562.7" width="9" height="1.6" fill="#a9afb6" opacity=".7"/>
<rect x="542.5" y="561.7" width="3.2" height="3.8" fill="#15171a"/>
<rect x="550.2" y="504" width="16" height="65" fill="none" stroke="#7a8088" stroke-width=".6"/>
<rect x="551.2" y="506.0" width="9" height="1.6" fill="#a9afb6" opacity=".7"/>
<rect x="561.7" y="505.0" width="3.2" height="3.8" fill="#15171a"/>
<rect x="551.2" y="512.3" width="9" height="1.6" fill="#a9afb6" opacity=".7"/>
<rect x="561.7" y="511.3" width="3.2" height="3.8" fill="#15171a"/>
<rect x="551.2" y="518.6" width="9" height="1.6" fill="#a9afb6" opacity=".7"/>
<rect x="561.7" y="517.6" width="3.2" height="3.8" fill="#15171a"/>
<rect x="551.2" y="524.9" width="9" height="1.6" fill="#a9afb6" opacity=".7"/>
<rect x="561.7" y="523.9" width="3.2" height="3.8" fill="#15171a"/>
<rect x="551.2" y="531.2" width="9" height="1.6" fill="#a9afb6" opacity=".7"/>
<rect x="561.7" y="530.2" width="3.2" height="3.8" fill="#15171a"/>
<rect x="551.2" y="537.5" width="9" height="1.6" fill="#a9afb6" opacity=".7"/>
<rect x="561.7" y="536.5" width="3.2" height="3.8" fill="#15171a"/>
<rect x="551.2" y="543.8" width="9" height="1.6" fill="#a9afb6" opacity=".7"/>
<rect x="561.7" y="542.8" width="3.2" height="3.8" fill="#15171a"/>
<rect x="551.2" y="550.1" width="9" height="1.6" fill="#a9afb6" opacity=".7"/>
<rect x="561.7" y="549.1" width="3.2" height="3.8" fill="#15171a"/>
<rect x="551.2" y="556.4" width="9" height="1.6" fill="#a9afb6" opacity=".7"/>
<rect x="561.7" y="555.4" width="3.2" height="3.8" fill="#15171a"/>
<rect x="551.2" y="562.7" width="9" height="1.6" fill="#a9afb6" opacity=".7"/>
<rect x="561.7" y="561.7" width="3.2" height="3.8" fill="#15171a"/>
<rect x="569.4" y="504" width="16" height="65" fill="none" stroke="#7a8088" stroke-width=".6"/>
<rect x="570.4" y="506.0" width="9" height="1.6" fill="#a9afb6" opacity=".7"/>
<rect x="580.9" y="505.0" width="3.2" height="3.8" fill="#15171a"/>
<rect x="570.4" y="512.3" width="9" height="1.6" fill="#a9afb6" opacity=".7"/>
<rect x="580.9" y="511.3" width="3.2" height="3.8" fill="#15171a"/>
<rect x="570.4" y="518.6" width="9" height="1.6" fill="#a9afb6" opacity=".7"/>
<rect x="580.9" y="517.6" width="3.2" height="3.8" fill="#15171a"/>
<rect x="570.4" y="524.9" width="9" height="1.6" fill="#a9afb6" opacity=".7"/>
<rect x="580.9" y="523.9" width="3.2" height="3.8" fill="#15171a"/>
<rect x="570.4" y="531.2" width="9" height="1.6" fill="#a9afb6" opacity=".7"/>
<rect x="580.9" y="530.2" width="3.2" height="3.8" fill="#15171a"/>
<rect x="570.4" y="537.5" width="9" height="1.6" fill="#a9afb6" opacity=".7"/>
<rect x="580.9" y="536.5" width="3.2" height="3.8" fill="#15171a"/>
<rect x="570.4" y="543.8" width="9" height="1.6" fill="#a9afb6" opacity=".7"/>
<rect x="580.9" y="542.8" width="3.2" height="3.8" fill="#15171a"/>
<rect x="570.4" y="550.1" width="9" height="1.6" fill="#a9afb6" opacity=".7"/>
<rect x="580.9" y="549.1" width="3.2" height="3.8" fill="#15171a"/>
<rect x="570.4" y="556.4" width="9" height="1.6" fill="#a9afb6" opacity=".7"/>
<rect x="580.9" y="555.4" width="3.2" height="3.8" fill="#15171a"/>
<rect x="570.4" y="562.7" width="9" height="1.6" fill="#a9afb6" opacity=".7"/>
<rect x="580.9" y="561.7" width="3.2" height="3.8" fill="#15171a"/>
<rect x="588.6" y="504" width="16" height="65" fill="none" stroke="#7a8088" stroke-width=".6"/>
<rect x="589.6" y="506.0" width="9" height="1.6" fill="#a9afb6" opacity=".7"/>
<rect x="600.1" y="505.0" width="3.2" height="3.8" fill="#15171a"/>
<rect x="589.6" y="512.3" width="9" height="1.6" fill="#a9afb6" opacity=".7"/>
<rect x="600.1" y="511.3" width="3.2" height="3.8" fill="#15171a"/>
<rect x="589.6" y="518.6" width="9" height="1.6" fill="#a9afb6" opacity=".7"/>
<rect x="600.1" y="517.6" width="3.2" height="3.8" fill="#15171a"/>
<rect x="589.6" y="524.9" width="9" height="1.6" fill="#a9afb6" opacity=".7"/>
<rect x="600.1" y="523.9" width="3.2" height="3.8" fill="#15171a"/>
<rect x="589.6" y="531.2" width="9" height="1.6" fill="#a9afb6" opacity=".7"/>
<rect x="600.1" y="530.2" width="3.2" height="3.8" fill="#15171a"/>
<rect x="589.6" y="537.5" width="9" height="1.6" fill="#a9afb6" opacity=".7"/>
<rect x="600.1" y="536.5" width="3.2" height="3.8" fill="#15171a"/>
<rect x="589.6" y="543.8" width="9" height="1.6" fill="#a9afb6" opacity=".7"/>
<rect x="600.1" y="542.8" width="3.2" height="3.8" fill="#15171a"/>
<rect x="589.6" y="550.1" width="9" height="1.6" fill="#a9afb6" opacity=".7"/>
<rect x="600.1" y="549.1" width="3.2" height="3.8" fill="#15171a"/>
<rect x="589.6" y="556.4" width="9" height="1.6" fill="#a9afb6" opacity=".7"/>
<rect x="600.1" y="555.4" width="3.2" height="3.8" fill="#15171a"/>
<rect x="589.6" y="562.7" width="9" height="1.6" fill="#a9afb6" opacity=".7"/>
<rect x="600.1" y="561.7" width="3.2" height="3.8" fill="#15171a"/>
<rect x="588" y="576.5" width="17" height="1.3" fill="#9aa0a8" opacity=".5"/>
<rect x="588" y="581" width="17" height="1.3" fill="#9aa0a8" opacity=".5"/>
<rect x="588" y="585" width="17" height="1.3" fill="#9aa0a8" opacity=".5"/>
<rect x="158.5" y="589" width="454" height="79.6" fill="#41474f"/>
<rect x="158.5" y="590.5" width="9.5" height="78" fill="#d6d9dc"/>
<rect x="601.4" y="590.5" width="10.6" height="78" fill="#d6d9dc"/>
<rect x="168.0" y="590" width="36.4" height="78.6" fill="#4a5058"/>
<rect x="205.5" y="590" width="38.5" height="78.6" fill="#4a5058"/>
<rect x="244.0" y="590" width="53.3" height="78.6" fill="#4a5058"/>
<rect x="297.3" y="590" width="32.0" height="78.6" fill="#4a5058"/>
<rect x="333.6" y="590" width="88.4" height="78.6" fill="#4a5058"/>
<rect x="424.0" y="590" width="87.7" height="78.6" fill="#4a5058"/>
<rect x="512.8" y="590" width="88.6" height="78.6" fill="#4a5058"/>
<rect x="204.0" y="589" width="1.8" height="79.6" fill="#2a2e33"/>
<rect x="243.1" y="589" width="1.8" height="79.6" fill="#2a2e33"/>
<rect x="328.4" y="589" width="1.8" height="79.6" fill="#2a2e33"/>
<rect x="330.6" y="589" width="1.8" height="79.6" fill="#2a2e33"/>
<rect x="422.1" y="589" width="1.8" height="79.6" fill="#2a2e33"/>
<rect x="511.3" y="589" width="1.8" height="79.6" fill="#2a2e33"/>
<rect x="180" y="604.5" width="18" height="22" fill="#d8dbd8"/><rect x="182" y="606.5" width="14" height="18" fill="#151515"/><rect x="185" y="621.5" width="8" height="4" fill="#d8dbd8"/>
<rect x="180" y="634.4" width="18" height="22" fill="#d8dbd8"/><rect x="182" y="636.4" width="14" height="18" fill="#151515"/><rect x="185" y="651.4" width="8" height="4" fill="#d8dbd8"/>
<rect x="216" y="610" width="19" height="46" rx="3" fill="#b9bbb8"/><rect x="220" y="620" width="11" height="27" rx="2" fill="#2a2a2a"/><rect x="222" y="622" width="7" height="23" fill="#555"/>
<circle cx="225.5" cy="614" r="2.2" fill="#777"/><circle cx="225.5" cy="651.5" r="2.2" fill="#777"/>
<rect x="247" y="596" width="26.8" height="24.6" fill="#2d3136"/><circle cx="261" cy="606.7" r="7.5" fill="#1a1c1e"/><circle cx="261" cy="606.7" r="5" fill="#3a3d40"/>
<rect x="248" y="622.7" width="24.8" height="43.8" fill="#c2c4c4"/><rect x="248" y="622.7" width="24.8" height="4" fill="#d8dada"/><circle cx="262" cy="633" r="1.6" fill="#222"/>
<rect x="273.8" y="595" width="23.5" height="70" fill="#e4e6e4"/>
<rect x="276" y="598.0" width="3.5" height="3.5" fill="#1e1e1e"/><rect x="283" y="599.0" width="11" height="1.2" fill="#9a9c9a"/>
<rect x="276" y="604.1" width="3.5" height="3.5" fill="#1e1e1e"/><rect x="283" y="605.1" width="11" height="1.2" fill="#9a9c9a"/>
<rect x="276" y="610.2" width="3.5" height="3.5" fill="#1e1e1e"/><rect x="283" y="611.2" width="11" height="1.2" fill="#9a9c9a"/>
<rect x="276" y="616.3" width="3.5" height="3.5" fill="#1e1e1e"/><rect x="283" y="617.3" width="11" height="1.2" fill="#9a9c9a"/>
<rect x="276" y="622.4" width="3.5" height="3.5" fill="#1e1e1e"/><rect x="283" y="623.4" width="11" height="1.2" fill="#9a9c9a"/>
<rect x="276" y="628.5" width="3.5" height="3.5" fill="#1e1e1e"/><rect x="283" y="629.5" width="11" height="1.2" fill="#9a9c9a"/>
<rect x="276" y="634.6" width="3.5" height="3.5" fill="#1e1e1e"/><rect x="283" y="635.6" width="11" height="1.2" fill="#9a9c9a"/>
<rect x="276" y="640.7" width="3.5" height="3.5" fill="#1e1e1e"/><rect x="283" y="641.7" width="11" height="1.2" fill="#9a9c9a"/>
<rect x="276" y="646.8" width="3.5" height="3.5" fill="#1e1e1e"/><rect x="283" y="647.8" width="11" height="1.2" fill="#9a9c9a"/>
<rect x="276" y="652.9" width="3.5" height="3.5" fill="#1e1e1e"/><rect x="283" y="653.9" width="11" height="1.2" fill="#9a9c9a"/>
<rect x="276" y="659.0" width="3.5" height="3.5" fill="#1e1e1e"/><rect x="283" y="660.0" width="11" height="1.2" fill="#9a9c9a"/>
<rect x="304.8" y="595" width="22.4" height="21.3" fill="#d0d2d0"/><rect x="307.5" y="597.5" width="17" height="16" fill="#141414"/>
<rect x="308" y="620.6" width="18" height="42.4" rx="3" fill="#a9aba8"/><rect x="311.5" y="629" width="11" height="25" rx="2" fill="#2a2a2a"/><circle cx="317" cy="624.5" r="2" fill="#666"/><circle cx="317" cy="659" r="2" fill="#666"/>
<rect x="339" y="593.5" width="78" height="73" fill="#2a2e33"/>
<rect x="341.0" y="595.5" width="17.0" height="69.5" fill="#e2e3dc"/>
<circle cx="346.0" cy="600.2" r="2.5" fill="#8f8f88"/><rect x="352.0" y="598.4" width="3.5" height="3.8" fill="#1c1c1c"/><rect x="348.5" y="599.6" width="3.0" height="1.2" fill="#b0b0aa"/>
<circle cx="346.0" cy="606.7" r="2.5" fill="#8f8f88"/><rect x="352.0" y="604.9" width="3.5" height="3.8" fill="#1c1c1c"/><rect x="348.5" y="606.1" width="3.0" height="1.2" fill="#b0b0aa"/>
<circle cx="346.0" cy="613.1" r="2.5" fill="#8f8f88"/><rect x="352.0" y="611.3" width="3.5" height="3.8" fill="#1c1c1c"/><rect x="348.5" y="612.5" width="3.0" height="1.2" fill="#b0b0aa"/>
<circle cx="346.0" cy="619.6" r="2.5" fill="#8f8f88"/><rect x="352.0" y="617.8" width="3.5" height="3.8" fill="#1c1c1c"/><rect x="348.5" y="619.0" width="3.0" height="1.2" fill="#b0b0aa"/>
<circle cx="346.0" cy="626.0" r="2.5" fill="#8f8f88"/><rect x="352.0" y="624.2" width="3.5" height="3.8" fill="#1c1c1c"/><rect x="348.5" y="625.4" width="3.0" height="1.2" fill="#b0b0aa"/>
<circle cx="346.0" cy="632.5" r="2.5" fill="#8f8f88"/><rect x="352.0" y="630.6" width="3.5" height="3.8" fill="#1c1c1c"/><rect x="348.5" y="631.9" width="3.0" height="1.2" fill="#b0b0aa"/>
<circle cx="346.0" cy="638.9" r="2.5" fill="#8f8f88"/><rect x="352.0" y="637.1" width="3.5" height="3.8" fill="#1c1c1c"/><rect x="348.5" y="638.3" width="3.0" height="1.2" fill="#b0b0aa"/>
<circle cx="346.0" cy="645.4" r="2.5" fill="#8f8f88"/><rect x="352.0" y="643.5" width="3.5" height="3.8" fill="#1c1c1c"/><rect x="348.5" y="644.8" width="3.0" height="1.2" fill="#b0b0aa"/>
<circle cx="346.0" cy="651.8" r="2.5" fill="#8f8f88"/><rect x="352.0" y="650.0" width="3.5" height="3.8" fill="#1c1c1c"/><rect x="348.5" y="651.2" width="3.0" height="1.2" fill="#b0b0aa"/>
<circle cx="346.0" cy="658.2" r="2.5" fill="#8f8f88"/><rect x="352.0" y="656.4" width="3.5" height="3.8" fill="#1c1c1c"/><rect x="348.5" y="657.6" width="3.0" height="1.2" fill="#b0b0aa"/>
<rect x="360.0" y="595.5" width="17.0" height="69.5" fill="#e2e3dc"/>
<circle cx="365.0" cy="600.2" r="2.5" fill="#8f8f88"/><rect x="371.0" y="598.4" width="3.5" height="3.8" fill="#1c1c1c"/><rect x="367.5" y="599.6" width="3.0" height="1.2" fill="#b0b0aa"/>
<circle cx="365.0" cy="606.7" r="2.5" fill="#8f8f88"/><rect x="371.0" y="604.9" width="3.5" height="3.8" fill="#1c1c1c"/><rect x="367.5" y="606.1" width="3.0" height="1.2" fill="#b0b0aa"/>
<circle cx="365.0" cy="613.1" r="2.5" fill="#8f8f88"/><rect x="371.0" y="611.3" width="3.5" height="3.8" fill="#1c1c1c"/><rect x="367.5" y="612.5" width="3.0" height="1.2" fill="#b0b0aa"/>
<circle cx="365.0" cy="619.6" r="2.5" fill="#8f8f88"/><rect x="371.0" y="617.8" width="3.5" height="3.8" fill="#1c1c1c"/><rect x="367.5" y="619.0" width="3.0" height="1.2" fill="#b0b0aa"/>
<circle cx="365.0" cy="626.0" r="2.5" fill="#8f8f88"/><rect x="371.0" y="624.2" width="3.5" height="3.8" fill="#1c1c1c"/><rect x="367.5" y="625.4" width="3.0" height="1.2" fill="#b0b0aa"/>
<circle cx="365.0" cy="632.5" r="2.5" fill="#8f8f88"/><rect x="371.0" y="630.6" width="3.5" height="3.8" fill="#1c1c1c"/><rect x="367.5" y="631.9" width="3.0" height="1.2" fill="#b0b0aa"/>
<circle cx="365.0" cy="638.9" r="2.5" fill="#8f8f88"/><rect x="371.0" y="637.1" width="3.5" height="3.8" fill="#1c1c1c"/><rect x="367.5" y="638.3" width="3.0" height="1.2" fill="#b0b0aa"/>
<circle cx="365.0" cy="645.4" r="2.5" fill="#8f8f88"/><rect x="371.0" y="643.5" width="3.5" height="3.8" fill="#1c1c1c"/><rect x="367.5" y="644.8" width="3.0" height="1.2" fill="#b0b0aa"/>
<circle cx="365.0" cy="651.8" r="2.5" fill="#8f8f88"/><rect x="371.0" y="650.0" width="3.5" height="3.8" fill="#1c1c1c"/><rect x="367.5" y="651.2" width="3.0" height="1.2" fill="#b0b0aa"/>
<circle cx="365.0" cy="658.2" r="2.5" fill="#8f8f88"/><rect x="371.0" y="656.4" width="3.5" height="3.8" fill="#1c1c1c"/><rect x="367.5" y="657.6" width="3.0" height="1.2" fill="#b0b0aa"/>
<rect x="379.5" y="595.5" width="17.1" height="69.5" fill="#e2e3dc"/>
<circle cx="384.5" cy="600.2" r="2.5" fill="#8f8f88"/><rect x="390.6" y="598.4" width="3.5" height="3.8" fill="#1c1c1c"/><rect x="387.0" y="599.6" width="3.1" height="1.2" fill="#b0b0aa"/>
<circle cx="384.5" cy="606.7" r="2.5" fill="#8f8f88"/><rect x="390.6" y="604.9" width="3.5" height="3.8" fill="#1c1c1c"/><rect x="387.0" y="606.1" width="3.1" height="1.2" fill="#b0b0aa"/>
<circle cx="384.5" cy="613.1" r="2.5" fill="#8f8f88"/><rect x="390.6" y="611.3" width="3.5" height="3.8" fill="#1c1c1c"/><rect x="387.0" y="612.5" width="3.1" height="1.2" fill="#b0b0aa"/>
<circle cx="384.5" cy="619.6" r="2.5" fill="#8f8f88"/><rect x="390.6" y="617.8" width="3.5" height="3.8" fill="#1c1c1c"/><rect x="387.0" y="619.0" width="3.1" height="1.2" fill="#b0b0aa"/>
<circle cx="384.5" cy="626.0" r="2.5" fill="#8f8f88"/><rect x="390.6" y="624.2" width="3.5" height="3.8" fill="#1c1c1c"/><rect x="387.0" y="625.4" width="3.1" height="1.2" fill="#b0b0aa"/>
<circle cx="384.5" cy="632.5" r="2.5" fill="#8f8f88"/><rect x="390.6" y="630.6" width="3.5" height="3.8" fill="#1c1c1c"/><rect x="387.0" y="631.9" width="3.1" height="1.2" fill="#b0b0aa"/>
<circle cx="384.5" cy="638.9" r="2.5" fill="#8f8f88"/><rect x="390.6" y="637.1" width="3.5" height="3.8" fill="#1c1c1c"/><rect x="387.0" y="638.3" width="3.1" height="1.2" fill="#b0b0aa"/>
<circle cx="384.5" cy="645.4" r="2.5" fill="#8f8f88"/><rect x="390.6" y="643.5" width="3.5" height="3.8" fill="#1c1c1c"/><rect x="387.0" y="644.8" width="3.1" height="1.2" fill="#b0b0aa"/>
<circle cx="384.5" cy="651.8" r="2.5" fill="#8f8f88"/><rect x="390.6" y="650.0" width="3.5" height="3.8" fill="#1c1c1c"/><rect x="387.0" y="651.2" width="3.1" height="1.2" fill="#b0b0aa"/>
<circle cx="384.5" cy="658.2" r="2.5" fill="#8f8f88"/><rect x="390.6" y="656.4" width="3.5" height="3.8" fill="#1c1c1c"/><rect x="387.0" y="657.6" width="3.1" height="1.2" fill="#b0b0aa"/>
<rect x="398.5" y="595.5" width="17.0" height="69.5" fill="#e2e3dc"/>
<circle cx="403.5" cy="600.2" r="2.5" fill="#8f8f88"/><rect x="409.5" y="598.4" width="3.5" height="3.8" fill="#1c1c1c"/><rect x="406.0" y="599.6" width="3.0" height="1.2" fill="#b0b0aa"/>
<circle cx="403.5" cy="606.7" r="2.5" fill="#8f8f88"/><rect x="409.5" y="604.9" width="3.5" height="3.8" fill="#1c1c1c"/><rect x="406.0" y="606.1" width="3.0" height="1.2" fill="#b0b0aa"/>
<circle cx="403.5" cy="613.1" r="2.5" fill="#8f8f88"/><rect x="409.5" y="611.3" width="3.5" height="3.8" fill="#1c1c1c"/><rect x="406.0" y="612.5" width="3.0" height="1.2" fill="#b0b0aa"/>
<circle cx="403.5" cy="619.6" r="2.5" fill="#8f8f88"/><rect x="409.5" y="617.8" width="3.5" height="3.8" fill="#1c1c1c"/><rect x="406.0" y="619.0" width="3.0" height="1.2" fill="#b0b0aa"/>
<circle cx="403.5" cy="626.0" r="2.5" fill="#8f8f88"/><rect x="409.5" y="624.2" width="3.5" height="3.8" fill="#1c1c1c"/><rect x="406.0" y="625.4" width="3.0" height="1.2" fill="#b0b0aa"/>
<circle cx="403.5" cy="632.5" r="2.5" fill="#8f8f88"/><rect x="409.5" y="630.6" width="3.5" height="3.8" fill="#1c1c1c"/><rect x="406.0" y="631.9" width="3.0" height="1.2" fill="#b0b0aa"/>
<circle cx="403.5" cy="638.9" r="2.5" fill="#8f8f88"/><rect x="409.5" y="637.1" width="3.5" height="3.8" fill="#1c1c1c"/><rect x="406.0" y="638.3" width="3.0" height="1.2" fill="#b0b0aa"/>
<circle cx="403.5" cy="645.4" r="2.5" fill="#8f8f88"/><rect x="409.5" y="643.5" width="3.5" height="3.8" fill="#1c1c1c"/><rect x="406.0" y="644.8" width="3.0" height="1.2" fill="#b0b0aa"/>
<circle cx="403.5" cy="651.8" r="2.5" fill="#8f8f88"/><rect x="409.5" y="650.0" width="3.5" height="3.8" fill="#1c1c1c"/><rect x="406.0" y="651.2" width="3.0" height="1.2" fill="#b0b0aa"/>
<circle cx="403.5" cy="658.2" r="2.5" fill="#8f8f88"/><rect x="409.5" y="656.4" width="3.5" height="3.8" fill="#1c1c1c"/><rect x="406.0" y="657.6" width="3.0" height="1.2" fill="#b0b0aa"/>
<rect x="428.5" y="594" width="79" height="73" fill="#2a2e33"/>
<rect x="430.6" y="595.5" width="14.9" height="69.5" fill="#d9dbd6"/>
<rect x="432.6" y="598.0" width="4.6" height="4.6" fill="#151515"/><circle cx="441.0" cy="600.3" r="2.4" fill="#8a8a84"/>
<rect x="432.6" y="604.5" width="4.6" height="4.6" fill="#151515"/><circle cx="441.0" cy="606.8" r="2.4" fill="#8a8a84"/>
<rect x="432.6" y="610.9" width="4.6" height="4.6" fill="#151515"/><circle cx="441.0" cy="613.2" r="2.4" fill="#8a8a84"/>
<rect x="432.6" y="617.4" width="4.6" height="4.6" fill="#151515"/><circle cx="441.0" cy="619.6" r="2.4" fill="#8a8a84"/>
<rect x="432.6" y="623.8" width="4.6" height="4.6" fill="#151515"/><circle cx="441.0" cy="626.1" r="2.4" fill="#8a8a84"/>
<rect x="432.6" y="630.2" width="4.6" height="4.6" fill="#151515"/><circle cx="441.0" cy="632.5" r="2.4" fill="#8a8a84"/>
<rect x="432.6" y="636.7" width="4.6" height="4.6" fill="#151515"/><circle cx="441.0" cy="639.0" r="2.4" fill="#8a8a84"/>
<rect x="432.6" y="643.1" width="4.6" height="4.6" fill="#151515"/><circle cx="441.0" cy="645.4" r="2.4" fill="#8a8a84"/>
<rect x="432.6" y="649.6" width="4.6" height="4.6" fill="#151515"/><circle cx="441.0" cy="651.9" r="2.4" fill="#8a8a84"/>
<rect x="432.6" y="656.0" width="4.6" height="4.6" fill="#151515"/><circle cx="441.0" cy="658.3" r="2.4" fill="#8a8a84"/>
<rect x="450.8" y="595.5" width="13.9" height="69.5" fill="#d9dbd6"/>
<rect x="452.8" y="598.0" width="4.6" height="4.6" fill="#151515"/><circle cx="460.2" cy="600.3" r="2.4" fill="#8a8a84"/>
<rect x="452.8" y="604.5" width="4.6" height="4.6" fill="#151515"/><circle cx="460.2" cy="606.8" r="2.4" fill="#8a8a84"/>
<rect x="452.8" y="610.9" width="4.6" height="4.6" fill="#151515"/><circle cx="460.2" cy="613.2" r="2.4" fill="#8a8a84"/>
<rect x="452.8" y="617.4" width="4.6" height="4.6" fill="#151515"/><circle cx="460.2" cy="619.6" r="2.4" fill="#8a8a84"/>
<rect x="452.8" y="623.8" width="4.6" height="4.6" fill="#151515"/><circle cx="460.2" cy="626.1" r="2.4" fill="#8a8a84"/>
<rect x="452.8" y="630.2" width="4.6" height="4.6" fill="#151515"/><circle cx="460.2" cy="632.5" r="2.4" fill="#8a8a84"/>
<rect x="452.8" y="636.7" width="4.6" height="4.6" fill="#151515"/><circle cx="460.2" cy="639.0" r="2.4" fill="#8a8a84"/>
<rect x="452.8" y="643.1" width="4.6" height="4.6" fill="#151515"/><circle cx="460.2" cy="645.4" r="2.4" fill="#8a8a84"/>
<rect x="452.8" y="649.6" width="4.6" height="4.6" fill="#151515"/><circle cx="460.2" cy="651.9" r="2.4" fill="#8a8a84"/>
<rect x="452.8" y="656.0" width="4.6" height="4.6" fill="#151515"/><circle cx="460.2" cy="658.3" r="2.4" fill="#8a8a84"/>
<rect x="471.0" y="595.5" width="13.0" height="69.5" fill="#d9dbd6"/>
<rect x="473.0" y="598.0" width="4.6" height="4.6" fill="#151515"/><circle cx="479.5" cy="600.3" r="2.4" fill="#8a8a84"/>
<rect x="473.0" y="604.5" width="4.6" height="4.6" fill="#151515"/><circle cx="479.5" cy="606.8" r="2.4" fill="#8a8a84"/>
<rect x="473.0" y="610.9" width="4.6" height="4.6" fill="#151515"/><circle cx="479.5" cy="613.2" r="2.4" fill="#8a8a84"/>
<rect x="473.0" y="617.4" width="4.6" height="4.6" fill="#151515"/><circle cx="479.5" cy="619.6" r="2.4" fill="#8a8a84"/>
<rect x="473.0" y="623.8" width="4.6" height="4.6" fill="#151515"/><circle cx="479.5" cy="626.1" r="2.4" fill="#8a8a84"/>
<rect x="473.0" y="630.2" width="4.6" height="4.6" fill="#151515"/><circle cx="479.5" cy="632.5" r="2.4" fill="#8a8a84"/>
<rect x="473.0" y="636.7" width="4.6" height="4.6" fill="#151515"/><circle cx="479.5" cy="639.0" r="2.4" fill="#8a8a84"/>
<rect x="473.0" y="643.1" width="4.6" height="4.6" fill="#151515"/><circle cx="479.5" cy="645.4" r="2.4" fill="#8a8a84"/>
<rect x="473.0" y="649.6" width="4.6" height="4.6" fill="#151515"/><circle cx="479.5" cy="651.9" r="2.4" fill="#8a8a84"/>
<rect x="473.0" y="656.0" width="4.6" height="4.6" fill="#151515"/><circle cx="479.5" cy="658.3" r="2.4" fill="#8a8a84"/>
<rect x="490.3" y="595.5" width="15.0" height="69.5" fill="#d9dbd6"/>
<rect x="492.3" y="598.0" width="4.6" height="4.6" fill="#151515"/><circle cx="500.8" cy="600.3" r="2.4" fill="#8a8a84"/>
<rect x="492.3" y="604.5" width="4.6" height="4.6" fill="#151515"/><circle cx="500.8" cy="606.8" r="2.4" fill="#8a8a84"/>
<rect x="492.3" y="610.9" width="4.6" height="4.6" fill="#151515"/><circle cx="500.8" cy="613.2" r="2.4" fill="#8a8a84"/>
<rect x="492.3" y="617.4" width="4.6" height="4.6" fill="#151515"/><circle cx="500.8" cy="619.6" r="2.4" fill="#8a8a84"/>
<rect x="492.3" y="623.8" width="4.6" height="4.6" fill="#151515"/><circle cx="500.8" cy="626.1" r="2.4" fill="#8a8a84"/>
<rect x="492.3" y="630.2" width="4.6" height="4.6" fill="#151515"/><circle cx="500.8" cy="632.5" r="2.4" fill="#8a8a84"/>
<rect x="492.3" y="636.7" width="4.6" height="4.6" fill="#151515"/><circle cx="500.8" cy="639.0" r="2.4" fill="#8a8a84"/>
<rect x="492.3" y="643.1" width="4.6" height="4.6" fill="#151515"/><circle cx="500.8" cy="645.4" r="2.4" fill="#8a8a84"/>
<rect x="492.3" y="649.6" width="4.6" height="4.6" fill="#151515"/><circle cx="500.8" cy="651.9" r="2.4" fill="#8a8a84"/>
<rect x="492.3" y="656.0" width="4.6" height="4.6" fill="#151515"/><circle cx="500.8" cy="658.3" r="2.4" fill="#8a8a84"/>
<rect x="518" y="593.5" width="79" height="73" fill="#2a2e33"/>
<rect x="520.0" y="595.5" width="17.3" height="69.5" fill="#e2e3dc"/>
<circle cx="525.0" cy="600.2" r="2.5" fill="#8f8f88"/><rect x="531.3" y="598.4" width="3.5" height="3.8" fill="#1c1c1c"/><rect x="527.5" y="599.6" width="3.3" height="1.2" fill="#b0b0aa"/>
<circle cx="525.0" cy="606.7" r="2.5" fill="#8f8f88"/><rect x="531.3" y="604.9" width="3.5" height="3.8" fill="#1c1c1c"/><rect x="527.5" y="606.1" width="3.3" height="1.2" fill="#b0b0aa"/>
<circle cx="525.0" cy="613.1" r="2.5" fill="#8f8f88"/><rect x="531.3" y="611.3" width="3.5" height="3.8" fill="#1c1c1c"/><rect x="527.5" y="612.5" width="3.3" height="1.2" fill="#b0b0aa"/>
<circle cx="525.0" cy="619.6" r="2.5" fill="#8f8f88"/><rect x="531.3" y="617.8" width="3.5" height="3.8" fill="#1c1c1c"/><rect x="527.5" y="619.0" width="3.3" height="1.2" fill="#b0b0aa"/>
<circle cx="525.0" cy="626.0" r="2.5" fill="#8f8f88"/><rect x="531.3" y="624.2" width="3.5" height="3.8" fill="#1c1c1c"/><rect x="527.5" y="625.4" width="3.3" height="1.2" fill="#b0b0aa"/>
<circle cx="525.0" cy="632.5" r="2.5" fill="#8f8f88"/><rect x="531.3" y="630.6" width="3.5" height="3.8" fill="#1c1c1c"/><rect x="527.5" y="631.9" width="3.3" height="1.2" fill="#b0b0aa"/>
<circle cx="525.0" cy="638.9" r="2.5" fill="#8f8f88"/><rect x="531.3" y="637.1" width="3.5" height="3.8" fill="#1c1c1c"/><rect x="527.5" y="638.3" width="3.3" height="1.2" fill="#b0b0aa"/>
<circle cx="525.0" cy="645.4" r="2.5" fill="#8f8f88"/><rect x="531.3" y="643.5" width="3.5" height="3.8" fill="#1c1c1c"/><rect x="527.5" y="644.8" width="3.3" height="1.2" fill="#b0b0aa"/>
<circle cx="525.0" cy="651.8" r="2.5" fill="#8f8f88"/><rect x="531.3" y="650.0" width="3.5" height="3.8" fill="#1c1c1c"/><rect x="527.5" y="651.2" width="3.3" height="1.2" fill="#b0b0aa"/>
<circle cx="525.0" cy="658.2" r="2.5" fill="#8f8f88"/><rect x="531.3" y="656.4" width="3.5" height="3.8" fill="#1c1c1c"/><rect x="527.5" y="657.6" width="3.3" height="1.2" fill="#b0b0aa"/>
<rect x="539.4" y="595.5" width="17.1" height="69.5" fill="#e2e3dc"/>
<circle cx="544.4" cy="600.2" r="2.5" fill="#8f8f88"/><rect x="550.5" y="598.4" width="3.5" height="3.8" fill="#1c1c1c"/><rect x="546.9" y="599.6" width="3.1" height="1.2" fill="#b0b0aa"/>
<circle cx="544.4" cy="606.7" r="2.5" fill="#8f8f88"/><rect x="550.5" y="604.9" width="3.5" height="3.8" fill="#1c1c1c"/><rect x="546.9" y="606.1" width="3.1" height="1.2" fill="#b0b0aa"/>
<circle cx="544.4" cy="613.1" r="2.5" fill="#8f8f88"/><rect x="550.5" y="611.3" width="3.5" height="3.8" fill="#1c1c1c"/><rect x="546.9" y="612.5" width="3.1" height="1.2" fill="#b0b0aa"/>
<circle cx="544.4" cy="619.6" r="2.5" fill="#8f8f88"/><rect x="550.5" y="617.8" width="3.5" height="3.8" fill="#1c1c1c"/><rect x="546.9" y="619.0" width="3.1" height="1.2" fill="#b0b0aa"/>
<circle cx="544.4" cy="626.0" r="2.5" fill="#8f8f88"/><rect x="550.5" y="624.2" width="3.5" height="3.8" fill="#1c1c1c"/><rect x="546.9" y="625.4" width="3.1" height="1.2" fill="#b0b0aa"/>
<circle cx="544.4" cy="632.5" r="2.5" fill="#8f8f88"/><rect x="550.5" y="630.6" width="3.5" height="3.8" fill="#1c1c1c"/><rect x="546.9" y="631.9" width="3.1" height="1.2" fill="#b0b0aa"/>
<circle cx="544.4" cy="638.9" r="2.5" fill="#8f8f88"/><rect x="550.5" y="637.1" width="3.5" height="3.8" fill="#1c1c1c"/><rect x="546.9" y="638.3" width="3.1" height="1.2" fill="#b0b0aa"/>
<circle cx="544.4" cy="645.4" r="2.5" fill="#8f8f88"/><rect x="550.5" y="643.5" width="3.5" height="3.8" fill="#1c1c1c"/><rect x="546.9" y="644.8" width="3.1" height="1.2" fill="#b0b0aa"/>
<circle cx="544.4" cy="651.8" r="2.5" fill="#8f8f88"/><rect x="550.5" y="650.0" width="3.5" height="3.8" fill="#1c1c1c"/><rect x="546.9" y="651.2" width="3.1" height="1.2" fill="#b0b0aa"/>
<circle cx="544.4" cy="658.2" r="2.5" fill="#8f8f88"/><rect x="550.5" y="656.4" width="3.5" height="3.8" fill="#1c1c1c"/><rect x="546.9" y="657.6" width="3.1" height="1.2" fill="#b0b0aa"/>
<rect x="558.7" y="595.5" width="17.0" height="69.5" fill="#e2e3dc"/>
<circle cx="563.7" cy="600.2" r="2.5" fill="#8f8f88"/><rect x="569.7" y="598.4" width="3.5" height="3.8" fill="#1c1c1c"/><rect x="566.2" y="599.6" width="3.0" height="1.2" fill="#b0b0aa"/>
<circle cx="563.7" cy="606.7" r="2.5" fill="#8f8f88"/><rect x="569.7" y="604.9" width="3.5" height="3.8" fill="#1c1c1c"/><rect x="566.2" y="606.1" width="3.0" height="1.2" fill="#b0b0aa"/>
<circle cx="563.7" cy="613.1" r="2.5" fill="#8f8f88"/><rect x="569.7" y="611.3" width="3.5" height="3.8" fill="#1c1c1c"/><rect x="566.2" y="612.5" width="3.0" height="1.2" fill="#b0b0aa"/>
<circle cx="563.7" cy="619.6" r="2.5" fill="#8f8f88"/><rect x="569.7" y="617.8" width="3.5" height="3.8" fill="#1c1c1c"/><rect x="566.2" y="619.0" width="3.0" height="1.2" fill="#b0b0aa"/>
<circle cx="563.7" cy="626.0" r="2.5" fill="#8f8f88"/><rect x="569.7" y="624.2" width="3.5" height="3.8" fill="#1c1c1c"/><rect x="566.2" y="625.4" width="3.0" height="1.2" fill="#b0b0aa"/>
<circle cx="563.7" cy="632.5" r="2.5" fill="#8f8f88"/><rect x="569.7" y="630.6" width="3.5" height="3.8" fill="#1c1c1c"/><rect x="566.2" y="631.9" width="3.0" height="1.2" fill="#b0b0aa"/>
<circle cx="563.7" cy="638.9" r="2.5" fill="#8f8f88"/><rect x="569.7" y="637.1" width="3.5" height="3.8" fill="#1c1c1c"/><rect x="566.2" y="638.3" width="3.0" height="1.2" fill="#b0b0aa"/>
<circle cx="563.7" cy="645.4" r="2.5" fill="#8f8f88"/><rect x="569.7" y="643.5" width="3.5" height="3.8" fill="#1c1c1c"/><rect x="566.2" y="644.8" width="3.0" height="1.2" fill="#b0b0aa"/>
<circle cx="563.7" cy="651.8" r="2.5" fill="#8f8f88"/><rect x="569.7" y="650.0" width="3.5" height="3.8" fill="#1c1c1c"/><rect x="566.2" y="651.2" width="3.0" height="1.2" fill="#b0b0aa"/>
<circle cx="563.7" cy="658.2" r="2.5" fill="#8f8f88"/><rect x="569.7" y="656.4" width="3.5" height="3.8" fill="#1c1c1c"/><rect x="566.2" y="657.6" width="3.0" height="1.2" fill="#b0b0aa"/>
<rect x="577.9" y="595.5" width="17.1" height="69.5" fill="#e2e3dc"/>
<circle cx="582.9" cy="600.2" r="2.5" fill="#8f8f88"/><rect x="589.0" y="598.4" width="3.5" height="3.8" fill="#1c1c1c"/><rect x="585.4" y="599.6" width="3.1" height="1.2" fill="#b0b0aa"/>
<circle cx="582.9" cy="606.7" r="2.5" fill="#8f8f88"/><rect x="589.0" y="604.9" width="3.5" height="3.8" fill="#1c1c1c"/><rect x="585.4" y="606.1" width="3.1" height="1.2" fill="#b0b0aa"/>
<circle cx="582.9" cy="613.1" r="2.5" fill="#8f8f88"/><rect x="589.0" y="611.3" width="3.5" height="3.8" fill="#1c1c1c"/><rect x="585.4" y="612.5" width="3.1" height="1.2" fill="#b0b0aa"/>
<circle cx="582.9" cy="619.6" r="2.5" fill="#8f8f88"/><rect x="589.0" y="617.8" width="3.5" height="3.8" fill="#1c1c1c"/><rect x="585.4" y="619.0" width="3.1" height="1.2" fill="#b0b0aa"/>
<circle cx="582.9" cy="626.0" r="2.5" fill="#8f8f88"/><rect x="589.0" y="624.2" width="3.5" height="3.8" fill="#1c1c1c"/><rect x="585.4" y="625.4" width="3.1" height="1.2" fill="#b0b0aa"/>
<circle cx="582.9" cy="632.5" r="2.5" fill="#8f8f88"/><rect x="589.0" y="630.6" width="3.5" height="3.8" fill="#1c1c1c"/><rect x="585.4" y="631.9" width="3.1" height="1.2" fill="#b0b0aa"/>
<circle cx="582.9" cy="638.9" r="2.5" fill="#8f8f88"/><rect x="589.0" y="637.1" width="3.5" height="3.8" fill="#1c1c1c"/><rect x="585.4" y="638.3" width="3.1" height="1.2" fill="#b0b0aa"/>
<circle cx="582.9" cy="645.4" r="2.5" fill="#8f8f88"/><rect x="589.0" y="643.5" width="3.5" height="3.8" fill="#1c1c1c"/><rect x="585.4" y="644.8" width="3.1" height="1.2" fill="#b0b0aa"/>
<circle cx="582.9" cy="651.8" r="2.5" fill="#8f8f88"/><rect x="589.0" y="650.0" width="3.5" height="3.8" fill="#1c1c1c"/><rect x="585.4" y="651.2" width="3.1" height="1.2" fill="#b0b0aa"/>
<circle cx="582.9" cy="658.2" r="2.5" fill="#8f8f88"/><rect x="589.0" y="656.4" width="3.5" height="3.8" fill="#1c1c1c"/><rect x="585.4" y="657.6" width="3.1" height="1.2" fill="#b0b0aa"/>
</g>
<path d="M317.8,241 V607" fill="none" stroke="#c00000" stroke-width="5.4"/></svg>
<div id="t1" class="t" style="left:22px;top:197px;font-size:21px;color:#444">HINET智能网关</div>
<div id="t2" class="t" style="left:299px;top:40px;font-size:21px;color:#444">有线方式接入互联网</div>
<div id="t3" class="t s" style="left:605px;top:114px;font-size:20.5px;letter-spacing:1.5px;color:#333">交换机</div>
<div id="t4" class="t" style="left:121.5px;top:356px;font-size:21px;color:#444">以太网方式连接PLC</div>
<div id="t5" class="t" style="left:890px;top:55px;font-size:21px;color:#333">Internet</div>
<div id="t6" class="t s" style="left:303px;top:694px;font-size:19px;letter-spacing:1.5px;transform:scaleX(1.1);transform-origin:0 0;color:#8b3535">现场设备端</div>
<div id="t7" class="t" style="left:301px;top:717px;font-size:21.5px;font-weight:bold;color:#222">AC 500PLC</div>
<div id="t8" class="t s" style="left:898px;top:696px;font-size:19.5px;letter-spacing:0.5px;transform:scaleX(1.08);transform-origin:0 0;color:#8b3535">远程监控端</div>
<div id="t9" class="t s" style="left:810px;top:723px;font-size:19.5px;letter-spacing:0.55px;transform:scaleX(1.08);transform-origin:0 0;color:#222">远程编程调试，远程组态等等</div>
<div id="t10" class="t" style="left:459px;top:199px;width:310px;text-align:center;font-size:22px;font-weight:bold;color:#3b7590;line-height:27px;white-space:normal">现场有有线网络的情况下<br>HINET智能网关可通过<span style="color:#e0202a">有线的</span><br><span style="color:#e0202a">方式</span>接入互联网</div>
</body></html>
